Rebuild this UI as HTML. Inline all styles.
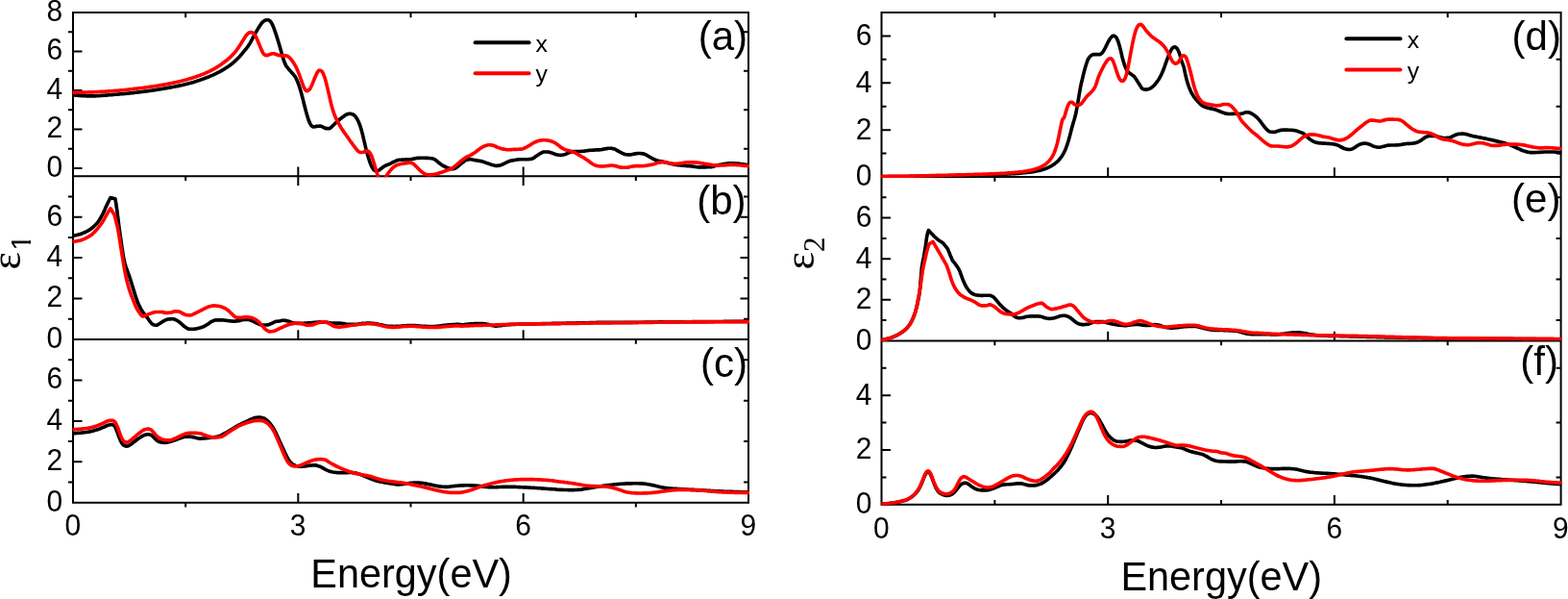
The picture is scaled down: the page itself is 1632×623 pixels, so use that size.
<!DOCTYPE html>
<html lang="en"><head><meta charset="utf-8"><title>Dielectric function</title>
<style>html,body{margin:0;padding:0;background:#fff}svg{display:block}text{font-family:"Liberation Sans",Arial,sans-serif;fill:#000}.t{font-size:31.2px}.T{font-size:42.3px}.l{font-size:24.8px}.c{fill:none;stroke-width:3.65;stroke-linejoin:round;stroke-linecap:butt}.ax{fill:none;stroke:#000;stroke-width:2}.mi{fill:none;stroke:#000;stroke-width:2}</style></head><body>
<svg width="1632" height="623" viewBox="0 0 1632 623">
<rect width="1632" height="623" fill="#fff"/>
<rect class="ax" x="76.0" y="13.0" width="703.0" height="509.8"/>
<path class="ax" d="M76.0,183.2 H779.0"/>
<path class="ax" d="M76.0,353.0 H779.0"/>
<rect class="ax" x="917.5" y="13.0" width="707.1" height="511.8"/>
<path class="ax" d="M917.5,184.0 H1624.6"/>
<path class="ax" d="M917.5,354.4 H1624.6"/>
<path class="ax" d="M76.0,175.00 H85.5 M76.0,134.50 H85.5 M76.0,94.00 H85.5 M76.0,53.50 H85.5 M76.0,310.55 H85.5 M770.5,310.55 H779.0 M76.0,268.10 H85.5 M770.5,268.10 H779.0 M76.0,225.65 H85.5 M770.5,225.65 H779.0 M76.0,480.35 H85.5 M76.0,437.90 H85.5 M76.0,395.45 H85.5 M310.33,173.5 V192.9 M310.33,343.3 V353.0 M310.33,513.1 V522.8 M544.67,173.5 V192.9 M544.67,343.3 V353.0 M544.67,513.1 V522.8 M917.5,135.14 H927.0 M917.5,86.29 H927.0 M917.5,37.43 H927.0 M917.5,311.80 H927.0 M917.5,269.20 H927.0 M917.5,226.60 H927.0 M917.5,468.00 H927.0 M917.5,411.20 H927.0 M1153.20,174.3 V184.0 M1153.20,344.7 V354.4 M1153.20,515.1 V524.8 M1388.90,174.3 V184.0 M1388.90,344.7 V354.4 M1388.90,515.1 V524.8"/>
<path class="mi" d="M71.0,154.75 H76.0 M774.0,154.75 H779.0 M71.0,114.25 H76.0 M774.0,114.25 H779.0 M71.0,73.75 H76.0 M774.0,73.75 H779.0 M71.0,33.25 H76.0 M774.0,33.25 H779.0 M71.0,331.77 H76.0 M774.0,331.77 H779.0 M71.0,289.32 H76.0 M774.0,289.32 H779.0 M71.0,246.88 H76.0 M774.0,246.88 H779.0 M71.0,204.42 H76.0 M774.0,204.42 H779.0 M71.0,501.57 H76.0 M774.0,501.57 H779.0 M71.0,459.12 H76.0 M774.0,459.12 H779.0 M71.0,416.67 H76.0 M774.0,416.67 H779.0 M71.0,374.23 H76.0 M774.0,374.23 H779.0 M193.17,13.0 V18.3 M193.17,183.2 V188.0 M193.17,353.0 V357.8 M193.17,522.8 V527.6 M427.50,13.0 V18.3 M427.50,183.2 V188.0 M427.50,353.0 V357.8 M427.50,522.8 V527.6 M661.83,13.0 V18.3 M661.83,183.2 V188.0 M661.83,353.0 V357.8 M661.83,522.8 V527.6 M917.5,159.57 H922.5 M1619.6,159.57 H1624.6 M917.5,110.71 H922.5 M1619.6,110.71 H1624.6 M917.5,61.86 H922.5 M1619.6,61.86 H1624.6 M917.5,333.10 H922.5 M1619.6,333.10 H1624.6 M917.5,290.50 H922.5 M1619.6,290.50 H1624.6 M917.5,247.90 H922.5 M1619.6,247.90 H1624.6 M917.5,205.30 H922.5 M1619.6,205.30 H1624.6 M917.5,496.40 H922.5 M1619.6,496.40 H1624.6 M917.5,439.60 H922.5 M1619.6,439.60 H1624.6 M917.5,382.80 H922.5 M1619.6,382.80 H1624.6 M1035.35,13.0 V18.3 M1035.35,184.0 V188.8 M1035.35,354.4 V359.2 M1035.35,520.0 V524.8 M1271.05,13.0 V18.3 M1271.05,184.0 V188.8 M1271.05,354.4 V359.2 M1271.05,520.0 V524.8 M1506.75,13.0 V18.3 M1506.75,184.0 V188.8 M1506.75,354.4 V359.2 M1506.75,520.0 V524.8"/>
<defs>
<clipPath id="cpa"><rect x="75.0" y="12.0" width="705.0" height="172.2"/></clipPath>
<clipPath id="cpb"><rect x="75.0" y="182.2" width="705.0" height="171.8"/></clipPath>
<clipPath id="cpc"><rect x="75.0" y="352.0" width="705.0" height="171.8"/></clipPath>
<clipPath id="cpd"><rect x="916.5" y="12.0" width="709.1" height="173.0"/></clipPath>
<clipPath id="cpe"><rect x="916.5" y="183.0" width="709.1" height="172.4"/></clipPath>
<clipPath id="cpf"><rect x="916.5" y="353.4" width="709.1" height="172.4"/></clipPath>
</defs>
<g clip-path="url(#cpa)">
<path class="c" stroke="#000" d="M75.6,98.8 76.6,98.9 77.6,99.0 78.6,99.1 79.6,99.2 80.6,99.3 81.6,99.4 82.6,99.4 83.6,99.5 84.6,99.6 85.6,99.6 86.6,99.7 87.6,99.7 88.6,99.7 89.6,99.8 90.6,99.8 91.6,99.8 92.6,99.8 93.6,99.8 94.6,99.8 95.6,99.8 96.6,99.8 97.6,99.8 98.6,99.8 99.6,99.8 100.6,99.7 101.6,99.7 102.6,99.6 103.6,99.6 104.6,99.5 105.6,99.4 106.6,99.4 107.6,99.3 108.6,99.2 109.6,99.1 110.6,99.1 111.6,99.0 112.6,98.9 113.6,98.8 114.6,98.7 115.6,98.7 116.6,98.6 117.6,98.5 118.6,98.4 119.6,98.3 120.6,98.2 121.6,98.2 122.6,98.1 123.6,98.0 124.6,97.9 125.6,97.8 126.6,97.7 127.6,97.7 128.6,97.6 129.6,97.5 130.6,97.4 131.6,97.3 132.6,97.2 133.6,97.1 134.6,97.0 135.6,96.9 136.6,96.8 137.6,96.7 138.6,96.6 139.6,96.4 140.6,96.3 141.6,96.2 142.6,96.1 143.6,96.0 144.6,95.9 145.6,95.8 146.6,95.6 147.6,95.5 148.6,95.4 149.6,95.3 150.6,95.1 151.6,95.0 152.6,94.9 153.6,94.7 154.6,94.6 155.6,94.5 156.6,94.3 157.6,94.2 158.6,94.0 159.6,93.9 160.6,93.7 161.6,93.6 162.6,93.4 163.6,93.3 164.6,93.1 165.6,93.0 166.6,92.8 167.6,92.6 168.6,92.5 169.6,92.3 170.6,92.1 171.6,92.0 172.6,91.8 173.6,91.6 174.6,91.4 175.6,91.3 176.6,91.1 177.6,90.9 178.6,90.7 179.6,90.5 180.6,90.3 181.6,90.2 182.6,90.0 183.6,89.8 184.6,89.6 185.6,89.4 186.6,89.1 187.6,88.9 188.6,88.7 189.6,88.5 190.6,88.3 191.6,88.0 192.6,87.8 193.6,87.6 194.6,87.3 195.6,87.1 196.6,86.8 197.6,86.5 198.6,86.3 199.6,86.0 200.6,85.7 201.6,85.4 202.6,85.1 203.6,84.8 204.5,84.5 205.5,84.1 206.5,83.8 207.5,83.5 208.5,83.1 209.5,82.8 210.5,82.4 211.5,82.1 212.5,81.7 213.5,81.3 214.5,80.9 215.5,80.6 216.5,80.2 217.5,79.8 218.5,79.4 219.5,78.9 220.5,78.5 221.5,78.1 222.5,77.6 223.5,77.1 224.5,76.7 225.5,76.2 226.5,75.7 227.5,75.2 228.5,74.6 229.5,74.1 230.5,73.5 231.5,73.0 232.5,72.4 233.5,71.8 234.5,71.1 235.5,70.5 236.5,69.8 237.5,69.2 238.5,68.5 239.5,67.7 240.5,67.0 241.5,66.2 242.5,65.4 243.5,64.5 244.5,63.7 245.5,62.7 246.5,61.8 247.5,60.8 248.5,59.8 249.5,58.7 250.5,57.5 251.5,56.3 252.5,55.1 253.5,53.9 254.5,52.7 255.5,51.5 256.5,50.3 257.5,49.0 258.5,47.6 259.5,46.1 260.5,44.4 261.5,42.5 262.5,40.6 263.5,38.7 264.5,36.9 265.5,35.1 266.5,33.3 267.5,31.6 268.5,29.9 269.5,28.3 270.5,26.7 271.5,25.2 272.5,23.9 273.5,22.9 274.5,22.0 275.5,21.4 276.5,21.0 277.5,20.7 278.5,20.7 279.5,20.9 280.5,21.4 281.5,22.2 282.5,23.7 283.5,25.6 284.5,27.9 285.5,30.6 286.5,33.4 287.5,36.4 288.5,39.5 289.5,42.7 290.5,46.1 291.5,49.6 292.5,53.1 293.5,56.7 294.5,60.1 295.5,63.1 296.5,65.9 297.5,67.9 298.5,69.4 299.5,70.7 300.5,72.0 301.5,73.1 302.5,74.2 303.5,75.4 304.5,76.4 305.5,77.5 306.5,78.8 307.5,80.3 308.5,82.3 309.5,84.5 310.5,87.0 311.5,89.9 312.5,93.0 313.5,96.5 314.5,100.2 315.5,104.1 316.5,108.2 317.5,112.1 318.5,116.0 319.5,119.5 320.5,122.8 321.5,125.8 322.5,128.1 323.5,129.9 324.5,131.0 325.5,131.7 326.5,132.0 327.5,131.8 328.5,131.6 329.5,131.4 330.5,131.3 331.5,131.2 332.5,131.1 333.5,131.1 334.5,131.4 335.5,131.9 336.5,132.4 337.5,132.9 338.5,133.4 339.5,133.6 340.5,133.6 341.5,133.6 342.5,133.6 343.5,133.4 344.5,132.6 345.5,131.6 346.5,130.7 347.5,129.7 348.5,128.7 349.5,127.7 350.5,126.8 351.5,125.9 352.5,125.0 353.5,124.2 354.4,123.4 355.4,122.7 356.4,122.0 357.4,121.3 358.4,120.5 359.4,119.8 360.4,119.2 361.4,118.8 362.4,118.5 363.4,118.2 364.4,118.2 365.4,118.4 366.4,118.7 367.4,119.0 368.4,119.7 369.4,120.6 370.4,121.7 371.4,123.2 372.4,125.1 373.4,127.3 374.4,129.7 375.4,132.7 376.4,136.1 377.4,139.9 378.4,144.1 379.4,148.3 380.4,152.6 381.4,156.7 382.4,160.4 383.4,163.8 384.4,166.9 385.4,169.8 386.4,172.2 387.4,174.3 388.4,175.9 389.4,176.9 390.4,177.6 391.4,177.9 392.4,177.8 393.4,177.5 394.4,177.1 395.4,176.4 396.4,175.5 397.4,174.8 398.4,174.0 399.4,173.3 400.4,172.7 401.4,172.2 402.4,171.8 403.4,171.4 404.4,171.0 405.4,170.6 406.4,170.1 407.4,169.6 408.4,169.0 409.4,168.5 410.4,168.1 411.4,167.6 412.4,167.2 413.4,166.8 414.4,166.5 415.4,166.3 416.4,166.2 417.4,166.2 418.4,166.1 419.4,166.1 420.4,166.0 421.4,166.0 422.4,165.9 423.4,165.9 424.4,165.9 425.4,165.8 426.4,165.8 427.4,165.7 428.4,165.6 429.4,165.4 430.4,165.2 431.4,164.9 432.4,164.7 433.4,164.5 434.4,164.4 435.4,164.4 436.4,164.3 437.4,164.3 438.4,164.2 439.4,164.2 440.4,164.2 441.4,164.2 442.4,164.3 443.4,164.3 444.4,164.3 445.4,164.4 446.4,164.5 447.4,164.5 448.4,164.7 449.4,164.8 450.4,165.0 451.4,165.3 452.4,165.8 453.4,166.6 454.4,167.3 455.4,168.1 456.4,169.0 457.4,169.8 458.4,170.6 459.4,171.2 460.4,171.9 461.4,172.5 462.4,173.0 463.4,173.5 464.4,174.0 465.4,174.5 466.4,174.8 467.4,175.1 468.4,175.4 469.4,175.7 470.4,175.7 471.4,175.6 472.4,175.4 473.4,175.1 474.4,174.7 475.4,174.0 476.4,173.2 477.4,172.3 478.4,171.5 479.4,170.6 480.4,169.8 481.4,169.0 482.4,168.2 483.4,167.4 484.4,166.7 485.4,166.3 486.4,166.1 487.4,165.9 488.4,165.7 489.4,165.7 490.4,165.8 491.4,166.0 492.4,166.2 493.4,166.5 494.4,166.6 495.4,166.8 496.4,166.9 497.4,167.1 498.4,167.2 499.4,167.4 500.4,167.6 501.4,167.8 502.4,168.1 503.4,168.4 504.4,168.8 505.3,169.1 506.3,169.4 507.3,169.7 508.3,170.1 509.3,170.5 510.3,170.8 511.3,171.2 512.3,171.5 513.3,171.7 514.3,172.0 515.3,172.2 516.3,172.4 517.3,172.3 518.3,172.3 519.3,172.1 520.3,172.0 521.3,171.7 522.3,171.3 523.3,170.8 524.3,170.3 525.3,169.9 526.3,169.4 527.3,168.9 528.3,168.4 529.3,168.0 530.3,167.6 531.3,167.3 532.3,167.1 533.3,166.9 534.3,166.7 535.3,166.5 536.3,166.4 537.3,166.2 538.3,166.0 539.3,165.8 540.3,165.8 541.3,165.7 542.3,165.7 543.3,165.7 544.3,165.7 545.3,165.7 546.3,165.7 547.3,165.7 548.3,165.7 549.3,165.7 550.3,165.6 551.3,165.5 552.3,165.4 553.3,165.2 554.3,164.9 555.3,164.4 556.3,163.7 557.3,162.9 558.3,162.3 559.3,161.6 560.3,160.9 561.3,160.2 562.3,159.6 563.3,159.1 564.3,158.5 565.3,158.1 566.3,158.0 567.3,158.0 568.3,158.0 569.3,158.0 570.3,158.0 571.3,158.1 572.3,158.4 573.3,158.7 574.3,159.0 575.3,159.4 576.3,159.8 577.3,160.2 578.3,160.6 579.3,160.8 580.3,161.0 581.3,161.2 582.3,161.3 583.3,161.3 584.3,161.3 585.3,161.2 586.3,161.0 587.3,160.8 588.3,160.5 589.3,160.1 590.3,159.6 591.3,159.1 592.3,158.7 593.3,158.3 594.3,158.0 595.3,157.7 596.3,157.6 597.3,157.6 598.3,157.6 599.3,157.6 600.3,157.6 601.3,157.6 602.3,157.6 603.3,157.5 604.3,157.5 605.3,157.4 606.3,157.3 607.3,157.2 608.3,157.1 609.3,157.0 610.3,156.8 611.3,156.7 612.3,156.5 613.3,156.4 614.3,156.3 615.3,156.2 616.3,156.2 617.3,156.1 618.3,156.1 619.3,156.0 620.3,155.9 621.3,155.9 622.3,155.9 623.3,155.8 624.3,155.8 625.3,155.7 626.3,155.6 627.3,155.3 628.3,155.1 629.3,154.9 630.3,154.7 631.3,154.6 632.3,154.4 633.3,154.3 634.3,154.2 635.3,154.2 636.3,154.3 637.3,154.4 638.3,154.7 639.3,154.9 640.3,155.3 641.3,155.9 642.3,156.5 643.3,157.0 644.3,157.6 645.3,158.1 646.3,158.7 647.3,159.2 648.3,159.6 649.3,160.1 650.3,160.4 651.3,160.7 652.3,160.8 653.3,160.9 654.3,160.9 655.2,161.0 656.2,160.9 657.2,160.7 658.2,160.5 659.2,160.3 660.2,160.1 661.2,159.9 662.2,159.8 663.2,159.6 664.2,159.5 665.2,159.5 666.2,159.5 667.2,159.6 668.2,159.7 669.2,159.9 670.2,160.1 671.2,160.4 672.2,160.9 673.2,161.5 674.2,162.1 675.2,162.6 676.2,163.2 677.2,163.8 678.2,164.3 679.2,164.8 680.2,165.3 681.2,165.8 682.2,166.3 683.2,166.7 684.2,167.0 685.2,167.3 686.2,167.5 687.2,167.7 688.2,167.8 689.2,168.0 690.2,168.2 691.2,168.4 692.2,168.7 693.2,168.9 694.2,169.2 695.2,169.5 696.2,169.7 697.2,170.0 698.2,170.2 699.2,170.4 700.2,170.6 701.2,170.9 702.2,171.1 703.2,171.3 704.2,171.4 705.2,171.6 706.2,171.7 707.2,171.8 708.2,171.9 709.2,172.0 710.2,172.1 711.2,172.2 712.2,172.3 713.2,172.4 714.2,172.5 715.2,172.6 716.2,172.6 717.2,172.7 718.2,172.8 719.2,172.9 720.2,173.0 721.2,173.1 722.2,173.2 723.2,173.4 724.2,173.5 725.2,173.7 726.2,173.8 727.2,173.8 728.2,173.9 729.2,173.9 730.2,173.9 731.2,173.8 732.2,173.8 733.2,173.8 734.2,173.8 735.2,173.8 736.2,173.7 737.2,173.7 738.2,173.7 739.2,173.6 740.2,173.6 741.2,173.5 742.2,173.3 743.2,173.0 744.2,172.6 745.2,172.3 746.2,172.0 747.2,171.8 748.2,171.6 749.2,171.4 750.2,171.2 751.2,171.0 752.2,170.8 753.2,170.6 754.2,170.5 755.2,170.3 756.2,170.2 757.2,170.0 758.2,169.9 759.2,169.9 760.2,169.9 761.2,169.9 762.2,169.9 763.2,169.9 764.2,169.9 765.2,170.0 766.2,170.0 767.2,170.1 768.2,170.1 769.2,170.2 770.2,170.4 771.2,170.5 772.2,170.7 773.2,170.8 774.2,171.0 775.2,171.1 776.2,171.2 777.2,171.4 778.2,171.5 779.2,171.6 779.8,171.6"/>
<path class="c" stroke="#ff0000" d="M75.6,96.3 76.6,96.3 77.6,96.3 78.6,96.3 79.6,96.3 80.6,96.3 81.6,96.2 82.6,96.2 83.6,96.2 84.6,96.2 85.6,96.1 86.6,96.1 87.6,96.1 88.6,96.1 89.6,96.0 90.6,96.0 91.6,96.0 92.6,95.9 93.6,95.9 94.6,95.9 95.6,95.8 96.6,95.8 97.6,95.8 98.6,95.7 99.6,95.7 100.6,95.6 101.6,95.6 102.6,95.5 103.6,95.5 104.6,95.4 105.6,95.4 106.6,95.3 107.6,95.3 108.6,95.2 109.6,95.1 110.6,95.1 111.6,95.0 112.6,94.9 113.6,94.9 114.6,94.8 115.6,94.7 116.6,94.7 117.6,94.6 118.6,94.5 119.6,94.4 120.6,94.4 121.6,94.3 122.6,94.2 123.6,94.1 124.6,94.0 125.6,93.9 126.6,93.9 127.6,93.8 128.6,93.7 129.6,93.6 130.6,93.5 131.6,93.4 132.6,93.2 133.6,93.1 134.6,93.0 135.6,92.9 136.6,92.8 137.6,92.7 138.6,92.6 139.6,92.4 140.6,92.3 141.6,92.2 142.6,92.1 143.6,92.0 144.6,91.8 145.6,91.7 146.6,91.6 147.6,91.5 148.6,91.4 149.6,91.2 150.6,91.1 151.6,91.0 152.6,90.8 153.6,90.7 154.6,90.6 155.6,90.4 156.6,90.3 157.6,90.1 158.6,90.0 159.6,89.9 160.6,89.7 161.6,89.6 162.6,89.4 163.6,89.2 164.6,89.1 165.6,88.9 166.6,88.8 167.6,88.6 168.6,88.4 169.6,88.3 170.6,88.1 171.6,87.9 172.6,87.7 173.6,87.5 174.6,87.3 175.6,87.1 176.6,86.9 177.6,86.7 178.6,86.5 179.6,86.3 180.6,86.1 181.6,85.9 182.6,85.7 183.6,85.4 184.6,85.2 185.6,85.0 186.6,84.7 187.6,84.5 188.6,84.3 189.6,84.0 190.6,83.8 191.6,83.5 192.6,83.2 193.6,83.0 194.6,82.7 195.6,82.4 196.6,82.1 197.6,81.8 198.6,81.6 199.6,81.2 200.6,80.9 201.6,80.6 202.6,80.3 203.6,80.0 204.5,79.6 205.5,79.3 206.5,78.9 207.5,78.5 208.5,78.2 209.5,77.8 210.5,77.4 211.5,77.0 212.5,76.6 213.5,76.2 214.5,75.7 215.5,75.3 216.5,74.8 217.5,74.4 218.5,73.9 219.5,73.4 220.5,72.8 221.5,72.3 222.5,71.8 223.5,71.2 224.5,70.6 225.5,70.0 226.5,69.4 227.5,68.8 228.5,68.1 229.5,67.5 230.5,66.8 231.5,66.1 232.5,65.3 233.5,64.6 234.5,63.8 235.5,63.0 236.5,62.2 237.5,61.3 238.5,60.5 239.5,59.6 240.5,58.6 241.5,57.7 242.5,56.6 243.5,55.5 244.5,54.4 245.5,53.1 246.5,51.8 247.5,50.4 248.5,48.9 249.5,47.4 250.5,45.9 251.5,44.3 252.5,42.7 253.5,41.1 254.5,39.5 255.5,37.9 256.5,36.5 257.5,35.4 258.5,34.5 259.5,34.0 260.5,33.6 261.5,33.5 262.5,33.8 263.5,34.5 264.5,35.4 265.5,36.8 266.5,38.5 267.5,40.7 268.5,43.1 269.5,45.5 270.5,47.9 271.5,50.3 272.5,52.5 273.5,54.7 274.5,56.1 275.5,57.0 276.5,57.5 277.5,57.6 278.5,57.4 279.5,57.1 280.5,56.8 281.5,56.4 282.5,56.0 283.5,55.7 284.5,55.7 285.5,55.9 286.5,56.1 287.5,56.5 288.5,57.0 289.5,57.4 290.5,57.6 291.5,57.8 292.5,57.9 293.5,58.0 294.5,58.0 295.5,57.9 296.5,57.9 297.5,57.8 298.5,58.0 299.5,58.6 300.5,59.3 301.5,60.1 302.5,61.2 303.5,62.4 304.5,63.8 305.5,65.3 306.5,66.9 307.5,68.6 308.5,70.5 309.5,72.7 310.5,75.1 311.5,77.7 312.5,80.5 313.5,83.3 314.5,86.2 315.5,88.9 316.5,91.2 317.5,93.1 318.5,94.2 319.5,94.7 320.5,94.3 321.5,93.6 322.5,92.6 323.5,90.8 324.5,88.8 325.5,86.4 326.5,83.8 327.5,81.3 328.5,79.0 329.5,76.9 330.5,74.9 331.5,73.7 332.5,73.2 333.5,73.3 334.5,73.8 335.5,74.8 336.5,76.9 337.5,79.4 338.5,82.4 339.5,86.0 340.5,90.1 341.5,94.4 342.5,98.7 343.5,103.1 344.5,107.4 345.5,111.3 346.5,114.7 347.5,117.7 348.5,120.3 349.5,122.6 350.5,124.7 351.5,126.6 352.5,128.4 353.5,130.1 354.4,131.8 355.4,133.4 356.4,134.9 357.4,136.4 358.4,137.9 359.4,139.3 360.4,140.7 361.4,142.1 362.4,143.6 363.4,145.0 364.4,146.5 365.4,147.9 366.4,149.2 367.4,150.6 368.4,151.9 369.4,153.2 370.4,154.5 371.4,155.8 372.4,156.9 373.4,157.7 374.4,158.3 375.4,158.5 376.4,158.5 377.4,158.5 378.4,158.2 379.4,157.6 380.4,157.2 381.4,157.1 382.4,157.0 383.4,157.3 384.4,158.2 385.4,159.6 386.4,161.5 387.4,164.0 388.4,167.0 389.4,170.3 390.4,173.7 391.4,177.1 392.4,180.1 393.4,182.7 394.4,186.1 395.4,189.5 396.4,191.3 397.4,192.5 398.4,192.4 399.4,191.3 400.4,189.4 401.4,185.2 402.4,182.4 403.4,180.9 404.4,179.7 405.4,178.5 406.4,177.2 407.4,176.0 408.4,174.9 409.4,174.0 410.4,173.3 411.4,172.6 412.4,172.0 413.4,171.6 414.4,171.2 415.4,171.0 416.4,170.7 417.4,170.5 418.4,170.3 419.4,170.2 420.4,170.0 421.4,169.9 422.4,169.8 423.4,169.6 424.4,169.4 425.4,169.3 426.4,169.2 427.4,169.3 428.4,169.6 429.4,170.0 430.4,170.6 431.4,171.4 432.4,172.4 433.4,173.3 434.4,174.3 435.4,175.4 436.4,176.4 437.4,177.4 438.4,178.2 439.4,179.1 440.4,179.8 441.4,180.5 442.4,180.9 443.4,181.2 444.4,181.5 445.4,181.7 446.4,181.7 447.4,181.7 448.4,181.7 449.4,181.6 450.4,181.5 451.4,181.4 452.4,181.2 453.4,181.0 454.4,180.8 455.4,180.5 456.4,180.2 457.4,179.8 458.4,179.5 459.4,179.2 460.4,178.9 461.4,178.6 462.4,178.2 463.4,177.8 464.4,177.5 465.4,177.1 466.4,176.8 467.4,176.4 468.4,176.0 469.4,175.5 470.4,175.0 471.4,174.4 472.4,173.7 473.4,172.9 474.4,172.1 475.4,171.3 476.4,170.4 477.4,169.5 478.4,168.6 479.4,167.7 480.4,166.9 481.4,166.2 482.4,165.4 483.4,164.8 484.4,164.1 485.4,163.5 486.4,163.0 487.4,162.5 488.4,162.1 489.4,161.6 490.4,161.0 491.4,160.5 492.4,159.8 493.4,159.2 494.4,158.5 495.4,157.8 496.4,157.0 497.4,156.2 498.4,155.4 499.4,154.7 500.4,154.0 501.4,153.4 502.4,152.9 503.4,152.3 504.4,151.9 505.3,151.6 506.3,151.3 507.3,151.0 508.3,150.8 509.3,150.7 510.3,150.7 511.3,150.9 512.3,151.1 513.3,151.3 514.3,151.6 515.3,152.0 516.3,152.5 517.3,153.0 518.3,153.4 519.3,153.8 520.3,154.1 521.3,154.4 522.3,154.7 523.3,154.9 524.3,155.1 525.3,155.3 526.3,155.5 527.3,155.6 528.3,155.7 529.3,155.7 530.3,155.7 531.3,155.6 532.3,155.6 533.3,155.5 534.3,155.4 535.3,155.4 536.3,155.3 537.3,155.3 538.3,155.3 539.3,155.2 540.3,155.2 541.3,155.1 542.3,155.1 543.3,155.0 544.3,154.7 545.3,154.3 546.3,153.8 547.3,153.4 548.3,152.9 549.3,152.3 550.3,151.6 551.3,151.1 552.3,150.5 553.3,149.8 554.3,149.2 555.3,148.7 556.3,148.2 557.3,147.7 558.3,147.3 559.3,146.9 560.3,146.5 561.3,146.3 562.3,146.1 563.3,146.0 564.3,145.8 565.3,145.7 566.3,145.7 567.3,145.7 568.3,145.8 569.3,146.0 570.3,146.1 571.3,146.3 572.3,146.5 573.3,146.8 574.3,147.1 575.3,147.5 576.3,147.9 577.3,148.4 578.3,149.0 579.3,149.7 580.3,150.4 581.3,151.1 582.3,151.9 583.3,152.8 584.3,153.5 585.3,154.2 586.3,154.7 587.3,155.2 588.3,155.6 589.3,156.0 590.3,156.3 591.3,156.6 592.3,156.8 593.3,157.0 594.3,157.3 595.3,157.7 596.3,158.0 597.3,158.4 598.3,158.8 599.3,159.4 600.3,159.9 601.3,160.5 602.3,161.1 603.3,161.7 604.3,162.2 605.3,162.8 606.3,163.3 607.3,163.9 608.3,164.5 609.3,165.2 610.3,165.9 611.3,166.6 612.3,167.3 613.3,168.1 614.3,168.8 615.3,169.6 616.3,170.3 617.3,170.9 618.3,171.4 619.3,171.8 620.3,172.2 621.3,172.5 622.3,172.6 623.3,172.8 624.3,172.9 625.3,172.9 626.3,173.0 627.3,173.0 628.3,172.9 629.3,172.8 630.3,172.7 631.3,172.6 632.3,172.5 633.3,172.4 634.3,172.2 635.3,172.1 636.3,172.0 637.3,172.0 638.3,172.2 639.3,172.4 640.3,172.6 641.3,172.8 642.3,173.1 643.3,173.4 644.3,173.7 645.3,173.9 646.3,174.1 647.3,174.1 648.3,174.2 649.3,174.2 650.3,174.2 651.3,174.2 652.3,174.2 653.3,174.1 654.3,173.9 655.2,173.7 656.2,173.5 657.2,173.3 658.2,173.1 659.2,172.9 660.2,172.7 661.2,172.6 662.2,172.6 663.2,172.6 664.2,172.6 665.2,172.6 666.2,172.6 667.2,172.6 668.2,172.6 669.2,172.6 670.2,172.5 671.2,172.4 672.2,172.2 673.2,172.1 674.2,172.0 675.2,171.8 676.2,171.6 677.2,171.4 678.2,171.2 679.2,171.0 680.2,170.7 681.2,170.5 682.2,170.1 683.2,169.8 684.2,169.5 685.2,169.2 686.2,169.0 687.2,168.9 688.2,168.7 689.2,168.6 690.2,168.6 691.2,168.7 692.2,168.9 693.2,169.1 694.2,169.2 695.2,169.4 696.2,169.5 697.2,169.6 698.2,169.8 699.2,170.0 700.2,170.2 701.2,170.3 702.2,170.3 703.2,170.3 704.2,170.3 705.2,170.2 706.2,170.1 707.2,170.0 708.2,169.9 709.2,169.8 710.2,169.6 711.2,169.4 712.2,169.2 713.2,169.0 714.2,168.9 715.2,168.9 716.2,168.9 717.2,168.9 718.2,168.9 719.2,168.9 720.2,168.9 721.2,168.9 722.2,168.9 723.2,168.9 724.2,168.9 725.2,169.0 726.2,169.1 727.2,169.3 728.2,169.4 729.2,169.6 730.2,169.7 731.2,169.9 732.2,170.1 733.2,170.2 734.2,170.4 735.2,170.6 736.2,170.8 737.2,170.9 738.2,171.1 739.2,171.2 740.2,171.4 741.2,171.6 742.2,171.7 743.2,171.9 744.2,172.0 745.2,172.0 746.2,172.0 747.2,172.0 748.2,172.0 749.2,172.0 750.2,172.0 751.2,172.0 752.2,172.0 753.2,172.0 754.2,171.9 755.2,171.8 756.2,171.7 757.2,171.6 758.2,171.5 759.2,171.4 760.2,171.4 761.2,171.4 762.2,171.4 763.2,171.4 764.2,171.4 765.2,171.5 766.2,171.5 767.2,171.6 768.2,171.6 769.2,171.7 770.2,171.8 771.2,171.9 772.2,172.0 773.2,172.2 774.2,172.3 775.2,172.4 776.2,172.4 777.2,172.5 778.2,172.6 779.2,172.6 779.8,172.6"/>
</g>
<g clip-path="url(#cpb)">
<path class="c" stroke="#000" d="M75.6,245.1 76.6,245.0 77.6,244.9 78.6,244.7 79.6,244.5 80.6,244.3 81.5,244.1 82.5,243.8 83.5,243.6 84.5,243.2 85.5,242.8 86.4,242.4 87.4,242.0 88.4,241.5 89.4,241.1 90.4,240.6 91.4,240.1 92.3,239.5 93.3,238.9 94.3,238.2 95.3,237.5 96.3,236.7 97.3,235.9 98.2,235.0 99.2,234.0 100.2,233.0 101.2,231.8 102.2,230.6 103.2,229.2 104.1,227.7 105.1,226.0 106.1,224.2 107.1,222.2 108.1,220.1 109.1,217.9 110.0,215.7 111.0,213.6 112.0,211.5 113.0,209.5 114.0,207.5 115.0,205.6 119.9,206.8 120.9,212.5 121.9,219.5 122.9,227.8 123.9,235.7 124.9,243.0 125.9,250.1 126.9,256.9 127.9,263.5 128.9,269.5 129.9,273.7 130.9,277.1 131.9,280.0 132.9,282.7 133.9,285.4 134.9,288.2 135.9,291.4 136.9,294.6 137.9,297.8 138.9,301.1 139.9,304.4 140.9,307.5 141.9,310.4 142.9,313.2 143.9,315.7 144.9,317.9 145.9,319.9 146.9,321.7 147.9,323.3 148.9,324.8 149.9,326.1 150.9,327.3 151.9,328.5 152.9,329.9 153.9,331.3 154.9,332.7 155.9,334.1 156.9,335.4 157.9,336.6 158.9,337.4 159.9,337.7 160.9,338.0 161.9,338.2 162.9,338.2 163.9,337.9 164.9,337.3 165.9,336.7 166.9,336.1 167.9,335.4 168.9,334.7 169.9,334.1 170.9,333.5 171.9,333.1 172.9,332.6 173.9,332.2 174.9,332.0 175.9,331.9 176.9,331.8 177.9,331.8 178.9,331.7 179.9,331.7 180.9,331.9 181.9,332.3 182.9,332.7 183.9,333.2 184.9,333.8 185.9,334.4 186.9,335.2 187.9,336.0 188.9,336.8 189.9,337.7 190.9,338.7 191.9,339.5 192.9,340.2 193.9,340.9 194.9,341.5 195.9,342.0 196.9,342.2 197.9,342.2 198.9,342.2 199.9,342.2 200.9,342.2 201.9,342.2 202.9,342.1 203.9,342.0 204.9,341.7 205.9,341.5 206.9,341.3 207.9,341.0 208.9,340.8 209.9,340.4 210.9,340.1 211.9,339.7 212.9,339.2 213.9,338.6 214.9,338.0 215.9,337.4 216.9,336.7 217.9,336.0 218.9,335.3 219.9,334.6 220.9,334.1 221.9,333.7 222.9,333.3 223.9,333.0 224.9,332.9 225.9,332.8 226.9,332.8 227.8,332.8 228.8,332.8 229.8,332.8 230.8,332.9 231.8,332.9 232.8,333.0 233.8,333.1 234.8,333.3 235.8,333.4 236.8,333.5 237.8,333.6 238.8,333.8 239.8,333.9 240.8,334.0 241.8,334.1 242.8,334.1 243.8,334.1 244.8,334.1 245.8,334.0 246.8,333.9 247.8,333.8 248.8,333.7 249.8,333.4 250.8,333.0 251.8,332.8 252.8,332.6 253.8,332.5 254.8,332.4 255.8,332.4 256.8,332.4 257.8,332.3 258.8,332.5 259.8,332.7 260.8,333.1 261.8,333.5 262.8,333.9 263.8,334.3 264.8,334.8 265.8,335.4 266.8,335.9 267.8,336.4 268.8,336.8 269.8,337.2 270.8,337.6 271.8,337.9 272.8,338.0 273.8,338.0 274.8,338.0 275.8,338.0 276.8,338.0 277.8,338.0 278.8,337.9 279.8,337.6 280.8,337.2 281.8,336.8 282.8,336.4 283.8,335.9 284.8,335.4 285.8,334.9 286.8,334.5 287.8,334.2 288.8,334.2 289.8,334.1 290.8,334.0 291.8,333.8 292.8,333.5 293.8,333.3 294.8,333.2 295.8,333.2 296.8,333.4 297.8,333.6 298.8,333.8 299.8,334.0 300.8,334.3 301.8,334.7 302.8,335.0 303.8,335.4 304.8,335.7 305.8,335.9 306.8,336.0 307.8,336.2 308.8,336.3 309.8,336.3 310.8,336.3 311.8,336.3 312.8,336.3 313.8,336.3 314.8,336.2 315.8,336.2 316.8,336.1 317.8,336.1 318.8,336.0 319.8,336.0 320.8,335.9 321.8,335.9 322.8,335.8 323.8,335.7 324.8,335.6 325.8,335.5 326.8,335.4 327.8,335.3 328.8,335.2 329.8,335.1 330.8,335.0 331.8,335.0 332.8,334.9 333.8,334.9 334.8,334.8 335.8,334.9 336.8,334.9 337.8,335.0 338.8,335.2 339.8,335.3 340.8,335.4 341.8,335.6 342.8,335.7 343.8,335.9 344.8,336.0 345.8,336.1 346.8,336.1 347.8,336.1 348.8,336.1 349.8,336.1 350.8,336.1 351.8,336.1 352.8,336.1 353.8,336.1 354.8,336.2 355.8,336.3 356.8,336.5 357.8,336.6 358.8,336.8 359.8,337.0 360.8,337.2 361.8,337.3 362.8,337.3 363.8,337.3 364.8,337.3 365.8,337.3 366.8,337.3 367.8,337.3 368.8,337.3 369.8,337.3 370.8,337.3 371.8,337.2 372.8,337.1 373.8,336.9 374.8,336.7 375.8,336.6 376.8,336.4 377.8,336.3 378.8,336.3 379.8,336.2 380.8,336.2 381.8,336.1 382.8,336.1 383.8,336.1 384.8,336.1 385.8,336.1 386.8,336.2 387.8,336.3 388.8,336.4 389.8,336.5 390.8,336.7 391.8,336.8 392.8,337.0 393.8,337.2 394.8,337.5 395.8,337.7 396.8,337.9 397.8,338.1 398.8,338.4 399.8,338.6 400.8,338.8 401.8,339.0 402.8,339.1 403.8,339.2 404.8,339.2 405.8,339.3 406.8,339.4 407.8,339.4 408.8,339.4 409.8,339.5 410.8,339.5 411.8,339.4 412.8,339.4 413.8,339.3 414.8,339.3 415.8,339.2 416.8,339.2 417.8,339.1 418.8,339.0 419.7,338.9 420.7,338.9 421.7,338.8 422.7,338.7 423.7,338.6 424.7,338.6 425.7,338.6 426.7,338.6 427.7,338.6 428.7,338.6 429.7,338.6 430.7,338.6 431.7,338.6 432.7,338.6 433.7,338.7 434.7,338.8 435.7,338.9 436.7,339.0 437.7,339.1 438.7,339.2 439.7,339.2 440.7,339.3 441.7,339.4 442.7,339.4 443.7,339.4 444.7,339.5 445.7,339.5 446.7,339.5 447.7,339.5 448.7,339.5 449.7,339.5 450.7,339.5 451.7,339.5 452.7,339.5 453.7,339.4 454.7,339.4 455.7,339.2 456.7,339.1 457.7,339.0 458.7,338.8 459.7,338.7 460.7,338.5 461.7,338.4 462.7,338.3 463.7,338.2 464.7,338.1 465.7,338.0 466.7,337.9 467.7,337.8 468.7,337.8 469.7,337.7 470.7,337.6 471.7,337.6 472.7,337.5 473.7,337.5 474.7,337.4 475.7,337.4 476.7,337.3 477.7,337.3 478.7,337.5 479.7,337.8 480.7,337.8 481.7,337.8 482.7,337.7 483.7,337.5 484.7,337.4 485.7,337.3 486.7,337.2 487.7,337.1 488.7,337.0 489.7,336.9 490.7,336.8 491.7,336.7 492.7,336.7 493.7,336.6 494.7,336.6 495.7,336.6 496.7,336.6 497.7,336.6 498.7,336.6 499.7,336.6 500.7,336.6 501.7,336.6 502.7,336.6 503.7,336.7 504.7,336.8 505.7,337.0 506.7,337.2 507.7,337.4 508.7,337.6 509.7,337.9 510.7,338.2 511.7,338.4 512.7,338.6 513.7,338.8 514.7,339.0 515.7,339.1 516.7,339.1 517.7,339.0 518.7,338.9 519.7,338.8 520.7,338.7 521.7,338.6 522.7,338.4 523.7,338.3 524.7,338.2 525.7,338.0 526.7,337.9 527.7,337.8 528.7,337.7 529.7,337.6 530.7,337.6 531.7,337.5 532.7,337.4 533.7,337.4 534.7,337.4 535.7,337.3 536.7,337.3 537.7,337.2 538.7,337.2 539.7,337.2 540.7,337.1 541.7,337.1 542.7,337.1 543.7,337.1 544.7,337.0 545.7,337.0 546.7,337.0 547.7,337.0 548.7,336.9 549.7,336.9 550.7,336.9 551.7,336.9 552.7,336.8 553.7,336.8 554.7,336.8 555.7,336.8 556.7,336.8 557.7,336.7 558.7,336.7 559.7,336.7 560.7,336.7 561.7,336.7 562.7,336.7 563.7,336.6 564.7,336.6 565.7,336.6 566.7,336.6 567.7,336.6 568.7,336.5 569.7,336.5 570.7,336.5 571.7,336.5 572.7,336.5 573.7,336.5 574.7,336.4 575.7,336.4 576.7,336.4 577.7,336.4 578.7,336.4 579.7,336.3 580.7,336.3 581.7,336.3 582.7,336.3 583.7,336.3 584.7,336.2 585.7,336.2 586.7,336.2 587.7,336.2 588.7,336.2 589.7,336.1 590.7,336.1 591.7,336.1 592.7,336.1 593.7,336.1 594.7,336.0 595.7,336.0 596.7,336.0 597.7,336.0 598.7,336.0 599.7,335.9 600.7,335.9 601.7,335.9 602.7,335.9 603.7,335.9 604.7,335.8 605.7,335.8 606.7,335.8 607.7,335.8 608.7,335.8 609.7,335.7 610.6,335.7 611.6,335.7 612.6,335.7 613.6,335.6 614.6,335.6 615.6,335.6 616.6,335.6 617.6,335.5 618.6,335.5 619.6,335.5 620.6,335.5 621.6,335.4 622.6,335.4 623.6,335.4 624.6,335.4 625.6,335.4 626.6,335.4 627.6,335.3 628.6,335.3 629.6,335.3 630.6,335.3 631.6,335.3 632.6,335.3 633.6,335.3 634.6,335.3 635.6,335.3 636.6,335.3 637.6,335.3 638.6,335.3 639.6,335.3 640.6,335.3 641.6,335.3 642.6,335.3 643.6,335.3 644.6,335.3 645.6,335.3 646.6,335.3 647.6,335.3 648.6,335.3 649.6,335.3 650.6,335.3 651.6,335.3 652.6,335.3 653.6,335.3 654.6,335.3 655.6,335.3 656.6,335.3 657.6,335.3 658.6,335.3 659.6,335.3 660.6,335.3 661.6,335.3 662.6,335.3 663.6,335.3 664.6,335.3 665.6,335.2 666.6,335.2 667.6,335.2 668.6,335.2 669.6,335.2 670.6,335.2 671.6,335.1 672.6,335.1 673.6,335.1 674.6,335.1 675.6,335.1 676.6,335.1 677.6,335.0 678.6,335.0 679.6,335.0 680.6,335.0 681.6,335.0 682.6,335.0 683.6,335.0 684.6,335.0 685.6,334.9 686.6,334.9 687.6,334.9 688.6,334.9 689.6,334.9 690.6,334.9 691.6,334.9 692.6,334.9 693.6,334.9 694.6,334.9 695.6,334.8 696.6,334.8 697.6,334.8 698.6,334.8 699.6,334.8 700.6,334.8 701.6,334.8 702.6,334.8 703.6,334.8 704.6,334.8 705.6,334.8 706.6,334.8 707.6,334.7 708.6,334.7 709.6,334.7 710.6,334.7 711.6,334.7 712.6,334.7 713.6,334.7 714.6,334.7 715.6,334.7 716.6,334.7 717.6,334.7 718.6,334.7 719.6,334.7 720.6,334.6 721.6,334.6 722.6,334.6 723.6,334.6 724.6,334.6 725.6,334.6 726.6,334.6 727.6,334.6 728.6,334.6 729.6,334.6 730.6,334.6 731.6,334.6 732.6,334.6 733.6,334.6 734.6,334.6 735.6,334.6 736.6,334.5 737.6,334.5 738.6,334.5 739.6,334.5 740.6,334.5 741.6,334.5 742.6,334.5 743.6,334.5 744.6,334.5 745.6,334.5 746.6,334.5 747.6,334.5 748.6,334.5 749.6,334.5 750.6,334.5 751.6,334.5 752.6,334.5 753.6,334.4 754.6,334.4 755.6,334.4 756.6,334.4 757.6,334.4 758.6,334.4 759.6,334.4 760.6,334.4 761.6,334.4 762.6,334.4 763.6,334.4 764.6,334.4 765.6,334.4 766.6,334.4 767.6,334.4 768.6,334.4 769.6,334.4 770.6,334.4 771.6,334.4 772.6,334.4 773.6,334.4 774.6,334.4 775.6,334.3 776.6,334.3 777.6,334.3 778.6,334.3 779.6,334.3 779.8,334.3"/>
<path class="c" stroke="#ff0000" d="M75.6,251.4 76.6,251.3 77.6,251.2 78.6,251.0 79.6,250.8 80.6,250.7 81.5,250.4 82.5,250.2 83.5,250.0 84.5,249.7 85.5,249.3 86.4,249.0 87.4,248.6 88.4,248.1 89.4,247.7 90.4,247.2 91.4,246.7 92.3,246.1 93.3,245.5 94.3,244.9 95.3,244.2 96.3,243.3 97.3,242.4 98.2,241.4 99.2,240.4 100.2,239.3 101.2,238.2 102.2,237.0 103.2,235.7 104.1,234.4 105.1,233.1 106.1,231.7 107.1,230.2 108.1,228.6 109.1,226.8 110.0,225.0 111.0,223.2 112.0,221.5 113.0,219.9 114.0,218.3 115.0,216.8 119.2,223.7 120.2,227.7 121.2,231.8 122.2,236.0 123.2,241.0 124.2,246.9 125.1,252.8 126.1,258.9 127.1,265.4 128.1,271.5 129.1,277.4 130.1,283.0 131.1,288.0 132.1,292.3 133.1,296.1 134.1,299.6 135.1,302.8 136.1,305.7 137.1,308.3 138.1,310.9 139.1,313.4 140.1,315.9 141.1,318.3 142.1,320.4 143.1,322.2 144.1,323.7 145.1,325.2 146.1,326.6 147.1,328.0 148.1,328.8 149.1,329.1 150.1,328.7 151.1,328.2 152.1,327.8 153.1,327.4 154.1,327.0 155.1,326.6 156.1,326.2 157.1,325.9 158.1,325.6 159.1,325.2 160.1,324.9 161.1,324.6 162.1,324.5 163.1,324.5 164.1,324.5 165.1,324.5 166.1,324.5 167.1,324.5 168.1,324.5 169.1,324.6 170.1,324.9 171.1,325.1 172.1,325.3 173.1,325.3 174.1,325.3 175.1,325.3 176.1,325.2 177.1,325.1 178.1,325.0 179.1,324.7 180.1,324.3 181.1,324.0 182.1,323.8 183.1,323.8 184.1,323.9 185.1,324.0 186.1,324.1 187.1,324.3 188.1,324.8 189.1,325.5 190.1,326.0 191.1,326.5 192.1,327.0 193.1,327.4 194.1,327.6 195.1,327.7 196.1,327.8 197.1,327.8 198.1,327.8 199.1,327.7 200.1,327.4 201.1,326.9 202.1,326.4 203.1,325.9 204.1,325.4 205.1,324.9 206.1,324.4 207.1,323.9 208.1,323.4 209.1,322.9 210.1,322.4 211.1,321.9 212.1,321.4 213.1,320.9 214.1,320.4 215.1,319.9 216.1,319.4 217.1,319.0 218.1,318.7 219.1,318.5 220.1,318.3 221.1,318.1 222.1,318.0 223.1,317.9 224.1,318.0 225.1,318.1 226.1,318.2 227.1,318.3 228.1,318.5 229.1,318.7 230.1,319.0 231.1,319.4 232.1,319.8 233.1,320.2 234.1,320.7 235.1,321.2 236.0,321.8 237.0,322.5 238.0,323.3 239.0,324.2 240.0,325.2 241.0,326.2 242.0,327.1 243.0,328.1 244.0,329.1 245.0,329.8 246.0,330.1 247.0,330.2 248.0,330.3 249.0,330.3 250.0,330.3 251.0,330.3 252.0,330.2 253.0,330.1 254.0,329.9 255.0,329.8 256.0,329.9 257.0,329.9 258.0,329.9 259.0,330.0 260.0,330.1 261.0,330.2 262.0,330.5 263.0,330.9 264.0,331.3 265.0,331.8 266.0,332.4 267.0,333.0 268.0,333.7 269.0,334.5 270.0,335.4 271.0,336.5 272.0,337.8 273.0,339.0 274.0,340.1 275.0,341.2 276.0,342.3 277.0,343.1 278.0,343.7 279.0,344.3 280.0,344.7 281.0,344.9 282.0,344.8 283.0,344.7 284.0,344.5 285.0,344.3 286.0,344.1 287.0,343.7 288.0,343.2 289.0,342.7 290.0,342.2 291.0,341.7 292.0,341.2 293.0,340.8 294.0,340.3 295.0,339.8 296.0,339.4 297.0,339.0 298.0,338.6 299.0,338.2 300.0,337.8 301.0,337.5 302.0,337.3 303.0,337.0 304.0,336.8 305.0,336.6 306.0,336.4 307.0,336.3 308.0,336.2 309.0,336.1 310.0,336.1 311.0,336.1 312.0,336.3 313.0,336.5 314.0,336.7 315.0,336.9 316.0,337.2 317.0,337.5 318.0,337.9 319.0,338.1 320.0,338.2 321.0,338.2 322.0,338.1 323.0,338.1 324.0,338.0 325.0,337.9 326.0,337.7 327.0,337.3 328.0,336.9 329.0,336.5 330.0,336.1 331.0,335.8 332.0,335.5 333.0,335.2 334.0,334.9 335.0,334.8 336.0,334.9 337.0,334.9 338.0,335.0 339.0,335.2 340.0,335.3 341.0,335.6 342.0,336.2 343.0,336.8 344.0,337.4 345.0,337.9 346.0,338.5 347.0,339.0 347.9,339.4 348.9,339.6 349.9,339.8 350.9,340.0 351.9,340.1 352.9,340.1 353.9,340.1 354.9,340.0 355.9,339.9 356.9,339.8 357.9,339.7 358.9,339.5 359.9,339.4 360.9,339.1 361.9,338.9 362.9,338.7 363.9,338.6 364.9,338.4 365.9,338.3 366.9,338.2 367.9,338.1 368.9,338.0 369.9,337.9 370.9,337.7 371.9,337.6 372.9,337.5 373.9,337.3 374.9,337.2 375.9,337.1 376.9,337.0 377.9,336.9 378.9,336.9 379.9,336.8 380.9,336.8 381.9,336.7 382.9,336.7 383.9,336.7 384.9,336.7 385.9,336.8 386.9,336.8 387.9,336.9 388.9,337.0 389.9,337.1 390.9,337.2 391.9,337.4 392.9,337.6 393.9,337.8 394.9,338.1 395.9,338.3 396.9,338.6 397.9,338.8 398.9,339.1 399.9,339.3 400.9,339.5 401.9,339.7 402.9,339.9 403.9,340.0 404.9,340.1 405.9,340.2 406.9,340.3 407.9,340.3 408.9,340.3 409.9,340.3 410.9,340.3 411.9,340.3 412.9,340.2 413.9,340.2 414.9,340.1 415.9,340.0 416.9,340.0 417.9,339.8 418.9,339.7 419.9,339.6 420.9,339.5 421.9,339.4 422.9,339.4 423.9,339.3 424.9,339.3 425.9,339.2 426.9,339.2 427.9,339.2 428.9,339.2 429.9,339.3 430.9,339.4 431.9,339.4 432.9,339.5 433.9,339.6 434.9,339.7 435.9,339.7 436.9,339.8 437.9,339.9 438.9,340.0 439.9,340.1 440.9,340.1 441.9,340.2 442.9,340.2 443.9,340.3 444.9,340.3 445.9,340.3 446.9,340.3 447.9,340.3 448.9,340.3 449.9,340.3 450.9,340.3 451.9,340.3 452.9,340.3 453.9,340.3 454.9,340.3 455.9,340.3 456.9,340.3 457.9,340.2 458.8,340.1 459.8,340.0 460.8,339.9 461.8,339.8 462.8,339.7 463.8,339.6 464.8,339.5 465.8,339.4 466.8,339.3 467.8,339.3 468.8,339.2 469.8,339.1 470.8,339.1 471.8,339.0 472.8,339.0 473.8,338.9 474.8,338.9 475.8,338.9 476.8,338.8 477.8,338.8 478.8,339.0 479.8,339.1 480.8,339.1 481.8,339.1 482.8,339.0 483.8,339.0 484.8,339.0 485.8,338.9 486.8,338.9 487.8,338.8 488.8,338.8 489.8,338.7 490.8,338.7 491.8,338.6 492.8,338.6 493.8,338.5 494.8,338.5 495.8,338.5 496.8,338.5 497.8,338.4 498.8,338.4 499.8,338.4 500.8,338.3 501.8,338.3 502.8,338.3 503.8,338.2 504.8,338.2 505.8,338.2 506.8,338.2 507.8,338.1 508.8,338.1 509.8,338.1 510.8,338.1 511.8,338.1 512.8,338.0 513.8,338.0 514.8,338.0 515.8,337.9 516.8,337.9 517.8,337.9 518.8,337.8 519.8,337.8 520.8,337.7 521.8,337.7 522.8,337.6 523.8,337.6 524.8,337.5 525.8,337.5 526.8,337.5 527.8,337.4 528.8,337.4 529.8,337.3 530.8,337.3 531.8,337.3 532.8,337.3 533.8,337.2 534.8,337.2 535.8,337.2 536.8,337.2 537.8,337.1 538.8,337.1 539.8,337.1 540.8,337.1 541.8,337.1 542.8,337.0 543.8,337.0 544.8,337.0 545.8,337.0 546.8,337.0 547.8,336.9 548.8,336.9 549.8,336.9 550.8,336.9 551.8,336.9 552.8,336.9 553.8,336.9 554.8,336.8 555.8,336.8 556.8,336.8 557.8,336.8 558.8,336.8 559.8,336.8 560.8,336.8 561.8,336.8 562.8,336.8 563.8,336.7 564.8,336.7 565.8,336.7 566.8,336.7 567.8,336.7 568.8,336.7 569.8,336.7 570.7,336.7 571.7,336.7 572.7,336.7 573.7,336.7 574.7,336.6 575.7,336.6 576.7,336.6 577.7,336.6 578.7,336.6 579.7,336.6 580.7,336.6 581.7,336.6 582.7,336.6 583.7,336.5 584.7,336.5 585.7,336.5 586.7,336.5 587.7,336.5 588.7,336.5 589.7,336.5 590.7,336.4 591.7,336.4 592.7,336.4 593.7,336.4 594.7,336.4 595.7,336.4 596.7,336.3 597.7,336.3 598.7,336.3 599.7,336.3 600.7,336.3 601.7,336.3 602.7,336.3 603.7,336.2 604.7,336.2 605.7,336.2 606.7,336.2 607.7,336.2 608.7,336.2 609.7,336.1 610.7,336.1 611.7,336.1 612.7,336.1 613.7,336.1 614.7,336.1 615.7,336.0 616.7,336.0 617.7,336.0 618.7,336.0 619.7,336.0 620.7,336.0 621.7,336.0 622.7,335.9 623.7,335.9 624.7,335.9 625.7,335.9 626.7,335.9 627.7,335.9 628.7,335.9 629.7,335.8 630.7,335.8 631.7,335.8 632.7,335.8 633.7,335.8 634.7,335.8 635.7,335.8 636.7,335.8 637.7,335.8 638.7,335.7 639.7,335.7 640.7,335.7 641.7,335.7 642.7,335.7 643.7,335.7 644.7,335.7 645.7,335.7 646.7,335.7 647.7,335.7 648.7,335.7 649.7,335.6 650.7,335.6 651.7,335.6 652.7,335.6 653.7,335.6 654.7,335.6 655.7,335.6 656.7,335.6 657.7,335.6 658.7,335.5 659.7,335.5 660.7,335.5 661.7,335.5 662.7,335.5 663.7,335.5 664.7,335.5 665.7,335.5 666.7,335.4 667.7,335.4 668.7,335.4 669.7,335.4 670.7,335.4 671.7,335.4 672.7,335.4 673.7,335.3 674.7,335.3 675.7,335.3 676.7,335.3 677.7,335.3 678.7,335.3 679.7,335.3 680.7,335.2 681.6,335.2 682.6,335.2 683.6,335.2 684.6,335.2 685.6,335.2 686.6,335.2 687.6,335.2 688.6,335.2 689.6,335.2 690.6,335.1 691.6,335.1 692.6,335.1 693.6,335.1 694.6,335.1 695.6,335.1 696.6,335.1 697.6,335.1 698.6,335.1 699.6,335.1 700.6,335.1 701.6,335.0 702.6,335.0 703.6,335.0 704.6,335.0 705.6,335.0 706.6,335.0 707.6,335.0 708.6,335.0 709.6,335.0 710.6,335.0 711.6,335.0 712.6,335.0 713.6,334.9 714.6,334.9 715.6,334.9 716.6,334.9 717.6,334.9 718.6,334.9 719.6,334.9 720.6,334.9 721.6,334.9 722.6,334.9 723.6,334.9 724.6,334.9 725.6,334.9 726.6,334.9 727.6,334.9 728.6,334.8 729.6,334.8 730.6,334.8 731.6,334.8 732.6,334.8 733.6,334.8 734.6,334.8 735.6,334.8 736.6,334.8 737.6,334.8 738.6,334.8 739.6,334.8 740.6,334.8 741.6,334.8 742.6,334.8 743.6,334.8 744.6,334.7 745.6,334.7 746.6,334.7 747.6,334.7 748.6,334.7 749.6,334.7 750.6,334.7 751.6,334.7 752.6,334.7 753.6,334.7 754.6,334.7 755.6,334.7 756.6,334.7 757.6,334.7 758.6,334.7 759.6,334.7 760.6,334.7 761.6,334.7 762.6,334.7 763.6,334.6 764.6,334.6 765.6,334.6 766.6,334.6 767.6,334.6 768.6,334.6 769.6,334.6 770.6,334.6 771.6,334.6 772.6,334.6 773.6,334.6 774.6,334.6 775.6,334.6 776.6,334.6 777.6,334.6 778.6,334.6 779.6,334.6 779.8,334.6"/>
</g>
<g clip-path="url(#cpc)">
<path class="c" stroke="#000" d="M75.6,450.7 76.6,450.7 77.6,450.6 78.6,450.6 79.6,450.5 80.6,450.4 81.6,450.4 82.6,450.3 83.6,450.2 84.6,450.1 85.6,450.0 86.6,449.9 87.6,449.8 88.6,449.7 89.6,449.5 90.6,449.4 91.6,449.2 92.6,449.1 93.6,448.9 94.6,448.7 95.6,448.4 96.6,448.2 97.6,447.9 98.6,447.6 99.6,447.3 100.6,447.0 101.6,446.7 102.6,446.4 103.6,446.0 104.6,445.6 105.6,445.2 106.6,444.8 107.6,444.4 108.6,444.0 109.6,443.5 110.6,443.0 111.6,442.6 112.6,442.3 113.6,442.0 114.6,441.8 115.6,441.6 116.6,441.6 117.6,441.9 118.6,442.4 119.6,443.5 120.6,445.8 121.6,448.2 122.6,451.0 123.6,453.8 124.6,456.3 125.6,458.7 126.6,460.5 127.6,462.0 128.6,463.1 129.6,463.5 130.6,463.9 131.6,464.1 132.6,464.0 133.6,463.7 134.6,463.1 135.6,462.6 136.6,461.9 137.6,461.1 138.6,460.3 139.6,459.5 140.6,458.8 141.6,458.0 142.6,457.3 143.6,456.5 144.6,455.8 145.6,455.2 146.6,454.5 147.6,453.9 148.6,453.3 149.6,452.8 150.6,452.4 151.6,452.1 152.6,451.9 153.6,451.7 154.6,451.7 155.6,451.9 156.6,452.2 157.6,452.6 158.6,453.5 159.6,454.5 160.6,455.5 161.6,456.6 162.6,457.5 163.6,458.2 164.6,458.9 165.6,459.4 166.6,459.7 167.6,459.9 168.6,460.1 169.6,460.2 170.6,460.3 171.6,460.3 172.6,460.3 173.6,460.1 174.6,459.9 175.6,459.7 176.6,459.4 177.6,459.2 178.6,458.9 179.6,458.6 180.6,458.3 181.6,457.9 182.6,457.6 183.6,457.2 184.6,456.8 185.6,456.4 186.6,456.1 187.6,455.7 188.6,455.3 189.6,454.9 190.6,454.6 191.6,454.4 192.6,454.3 193.5,454.2 194.5,454.2 195.5,454.1 196.5,454.1 197.5,454.1 198.5,454.3 199.5,454.4 200.5,454.6 201.5,454.8 202.5,455.0 203.5,455.3 204.5,455.5 205.5,455.8 206.5,456.0 207.5,456.1 208.5,456.1 209.5,456.1 210.5,456.0 211.5,456.0 212.5,456.0 213.5,455.9 214.5,455.8 215.5,455.7 216.5,455.5 217.5,455.4 218.5,455.2 219.5,455.1 220.5,455.0 221.5,454.9 222.5,454.7 223.5,454.6 224.5,454.5 225.5,454.3 226.5,454.1 227.5,453.9 228.5,453.6 229.5,453.1 230.5,452.6 231.5,452.0 232.5,451.5 233.5,451.0 234.5,450.4 235.5,449.9 236.5,449.3 237.5,448.7 238.5,448.1 239.5,447.5 240.5,446.9 241.5,446.3 242.5,445.7 243.5,445.1 244.5,444.4 245.5,443.8 246.5,443.2 247.5,442.6 248.5,442.1 249.5,441.5 250.5,441.1 251.5,440.6 252.5,440.2 253.5,439.7 254.5,439.3 255.5,438.8 256.5,438.3 257.5,437.8 258.5,437.3 259.5,436.8 260.5,436.4 261.5,436.0 262.5,435.6 263.5,435.2 264.5,434.8 265.5,434.6 266.5,434.4 267.5,434.2 268.5,434.1 269.5,434.0 270.5,434.0 271.5,434.2 272.5,434.4 273.5,434.7 274.5,435.0 275.5,435.5 276.5,436.2 277.5,437.0 278.5,437.8 279.5,438.7 280.5,439.8 281.5,441.1 282.5,442.4 283.5,443.8 284.5,445.4 285.5,447.2 286.5,449.0 287.5,451.1 288.5,453.3 289.5,455.5 290.5,457.7 291.5,459.9 292.5,462.1 293.5,464.2 294.5,466.4 295.5,468.6 296.5,470.8 297.5,472.9 298.5,474.9 299.5,476.8 300.5,478.4 301.5,479.8 302.5,481.0 303.5,482.0 304.5,482.8 305.5,483.4 306.5,483.8 307.5,484.2 308.5,484.5 309.5,484.7 310.5,484.9 311.5,485.1 312.5,485.1 313.5,485.1 314.5,485.1 315.5,485.0 316.5,485.0 317.5,484.9 318.5,484.8 319.5,484.6 320.5,484.4 321.5,484.3 322.5,484.1 323.5,484.1 324.5,484.0 325.5,483.9 326.5,483.9 327.5,483.9 328.5,483.9 329.5,484.1 330.5,484.4 331.4,484.7 332.4,485.0 333.4,485.4 334.4,485.9 335.4,486.5 336.4,487.0 337.4,487.5 338.4,488.1 339.4,488.6 340.4,489.1 341.4,489.5 342.4,489.9 343.4,490.2 344.4,490.5 345.4,490.8 346.4,491.0 347.4,491.2 348.4,491.3 349.4,491.4 350.4,491.5 351.4,491.6 352.4,491.6 353.4,491.6 354.4,491.6 355.4,491.6 356.4,491.6 357.4,491.6 358.4,491.6 359.4,491.6 360.4,491.6 361.4,491.6 362.4,491.5 363.4,491.4 364.4,491.4 365.4,491.4 366.4,491.4 367.4,491.6 368.4,491.7 369.4,491.9 370.4,492.1 371.4,492.4 372.4,492.6 373.4,492.9 374.4,493.2 375.4,493.6 376.4,494.0 377.4,494.4 378.4,494.8 379.4,495.2 380.4,495.6 381.4,496.0 382.4,496.5 383.4,496.9 384.4,497.3 385.4,497.7 386.4,498.1 387.4,498.5 388.4,498.9 389.4,499.3 390.4,499.6 391.4,499.9 392.4,500.2 393.4,500.4 394.4,500.7 395.4,500.9 396.4,501.1 397.4,501.3 398.4,501.5 399.4,501.7 400.4,501.9 401.4,502.0 402.4,502.2 403.4,502.4 404.4,502.5 405.4,502.7 406.4,502.9 407.4,503.0 408.4,503.2 409.4,503.3 410.4,503.5 411.4,503.6 412.4,503.8 413.4,503.8 414.4,503.8 415.4,503.8 416.4,503.8 417.4,503.7 418.4,503.6 419.4,503.5 420.4,503.4 421.4,503.2 422.4,503.1 423.4,502.9 424.4,502.8 425.4,502.6 426.4,502.5 427.4,502.4 428.4,502.3 429.4,502.2 430.4,502.1 431.4,502.0 432.4,502.0 433.4,502.0 434.4,502.0 435.4,502.0 436.4,502.1 437.4,502.2 438.4,502.3 439.4,502.4 440.4,502.5 441.4,502.7 442.4,502.9 443.4,503.1 444.4,503.3 445.4,503.5 446.4,503.7 447.4,503.9 448.4,504.1 449.4,504.3 450.4,504.6 451.4,504.8 452.4,505.0 453.4,505.2 454.4,505.4 455.4,505.6 456.4,505.8 457.4,505.9 458.4,506.1 459.4,506.1 460.4,506.2 461.4,506.2 462.4,506.3 463.4,506.3 464.4,506.3 465.4,506.3 466.4,506.3 467.4,506.2 468.3,506.1 469.3,506.0 470.3,505.8 471.3,505.7 472.3,505.6 473.3,505.5 474.3,505.4 475.3,505.3 476.3,505.2 477.3,505.1 478.3,505.0 479.3,505.0 480.3,504.9 481.3,504.8 482.3,504.8 483.3,504.8 484.3,504.7 485.3,504.7 486.3,504.7 487.3,504.7 488.3,504.8 489.3,504.8 490.3,504.9 491.3,504.9 492.3,505.0 493.3,505.0 494.3,505.1 495.3,505.1 496.3,505.2 497.3,505.3 498.3,505.4 499.3,505.5 500.3,505.6 501.3,505.8 502.3,506.0 503.3,506.1 504.3,506.3 505.3,506.4 506.3,506.4 507.3,506.5 508.3,506.6 509.3,506.7 510.3,506.7 511.3,506.7 512.3,506.7 513.3,506.7 514.3,506.7 515.3,506.7 516.3,506.6 517.3,506.6 518.3,506.6 519.3,506.5 520.3,506.5 521.3,506.5 522.3,506.4 523.3,506.4 524.3,506.4 525.3,506.3 526.3,506.3 527.3,506.3 528.3,506.3 529.3,506.3 530.3,506.3 531.3,506.3 532.3,506.3 533.3,506.3 534.3,506.4 535.3,506.4 536.3,506.4 537.3,506.5 538.3,506.5 539.3,506.6 540.3,506.6 541.3,506.6 542.3,506.7 543.3,506.7 544.3,506.8 545.3,506.8 546.3,506.9 547.3,506.9 548.3,507.0 549.3,507.0 550.3,507.1 551.3,507.1 552.3,507.2 553.3,507.2 554.3,507.3 555.3,507.3 556.3,507.4 557.3,507.5 558.3,507.5 559.3,507.6 560.3,507.7 561.3,507.7 562.3,507.8 563.3,507.9 564.3,508.0 565.3,508.1 566.3,508.1 567.3,508.2 568.3,508.3 569.3,508.4 570.3,508.5 571.3,508.5 572.3,508.6 573.3,508.6 574.3,508.6 575.3,508.7 576.3,508.7 577.3,508.8 578.3,508.9 579.3,509.1 580.3,509.2 581.3,509.3 582.3,509.3 583.3,509.4 584.3,509.4 585.3,509.4 586.3,509.5 587.3,509.5 588.3,509.5 589.3,509.5 590.3,509.5 591.3,509.6 592.3,509.6 593.3,509.6 594.3,509.6 595.3,509.6 596.3,509.6 597.3,509.6 598.3,509.5 599.3,509.5 600.3,509.5 601.3,509.4 602.3,509.4 603.3,509.3 604.3,509.2 605.2,509.1 606.2,508.9 607.2,508.7 608.2,508.5 609.2,508.4 610.2,508.2 611.2,508.0 612.2,507.9 613.2,507.7 614.2,507.5 615.2,507.4 616.2,507.2 617.2,507.0 618.2,506.9 619.2,506.7 620.2,506.5 621.2,506.3 622.2,506.2 623.2,506.0 624.2,505.8 625.2,505.7 626.2,505.6 627.2,505.4 628.2,505.3 629.2,505.1 630.2,505.0 631.2,504.9 632.2,504.8 633.2,504.6 634.2,504.5 635.2,504.4 636.2,504.3 637.2,504.2 638.2,504.0 639.2,503.9 640.2,503.8 641.2,503.7 642.2,503.6 643.2,503.6 644.2,503.5 645.2,503.4 646.2,503.3 647.2,503.2 648.2,503.2 649.2,503.1 650.2,503.1 651.2,503.0 652.2,502.9 653.2,502.9 654.2,502.9 655.2,502.8 656.2,502.8 657.2,502.8 658.2,502.8 659.2,502.7 660.2,502.7 661.2,502.7 662.2,502.7 663.2,502.7 664.2,502.7 665.2,502.8 666.2,502.8 667.2,502.9 668.2,502.9 669.2,503.0 670.2,503.1 671.2,503.2 672.2,503.3 673.2,503.5 674.2,503.7 675.2,503.8 676.2,504.0 677.2,504.2 678.2,504.4 679.2,504.6 680.2,504.8 681.2,505.0 682.2,505.3 683.2,505.5 684.2,505.8 685.2,506.0 686.2,506.3 687.2,506.5 688.2,506.7 689.2,506.9 690.2,507.0 691.2,507.2 692.2,507.4 693.2,507.5 694.2,507.6 695.2,507.7 696.2,507.9 697.2,508.0 698.2,508.1 699.2,508.1 700.2,508.2 701.2,508.3 702.2,508.3 703.2,508.4 704.2,508.4 705.2,508.5 706.2,508.5 707.2,508.6 708.2,508.6 709.2,508.7 710.2,508.8 711.2,508.8 712.2,508.9 713.2,509.0 714.2,509.0 715.2,509.1 716.2,509.2 717.2,509.2 718.2,509.3 719.2,509.3 720.2,509.4 721.2,509.4 722.2,509.4 723.2,509.5 724.2,509.5 725.2,509.6 726.2,509.6 727.2,509.7 728.2,509.7 729.2,509.8 730.2,509.8 731.2,509.9 732.2,510.0 733.2,510.0 734.2,510.1 735.2,510.2 736.2,510.3 737.2,510.3 738.2,510.4 739.2,510.4 740.2,510.5 741.2,510.5 742.2,510.6 743.1,510.6 744.1,510.7 745.1,510.7 746.1,510.8 747.1,510.8 748.1,510.9 749.1,510.9 750.1,511.0 751.1,511.0 752.1,511.1 753.1,511.1 754.1,511.2 755.1,511.2 756.1,511.2 757.1,511.3 758.1,511.3 759.1,511.3 760.1,511.3 761.1,511.4 762.1,511.4 763.1,511.5 764.1,511.5 765.1,511.5 766.1,511.6 767.1,511.6 768.1,511.6 769.1,511.6 770.1,511.6 771.1,511.7 772.1,511.7 773.1,511.7 774.1,511.7 775.1,511.7 776.1,511.7 777.1,511.7 778.1,511.7 779.1,511.7 779.8,511.7"/>
<path class="c" stroke="#ff0000" d="M75.6,446.7 76.6,446.7 77.6,446.6 78.6,446.6 79.6,446.5 80.6,446.4 81.6,446.4 82.6,446.3 83.6,446.2 84.6,446.1 85.6,446.0 86.6,445.9 87.6,445.8 88.6,445.7 89.6,445.5 90.6,445.4 91.6,445.2 92.6,445.1 93.6,444.9 94.6,444.7 95.6,444.4 96.6,444.2 97.6,443.9 98.6,443.6 99.6,443.3 100.6,443.0 101.6,442.6 102.6,442.2 103.6,441.8 104.6,441.4 105.6,440.9 106.6,440.5 107.6,440.0 108.6,439.6 109.6,439.0 110.6,438.5 111.6,438.1 112.6,437.8 113.6,437.6 114.6,437.3 115.6,437.2 116.6,437.2 117.6,437.4 118.6,438.0 119.6,438.7 120.6,440.2 121.6,442.4 122.6,444.7 123.6,447.6 124.6,450.4 125.6,453.2 126.6,455.6 127.6,457.3 128.6,458.7 129.6,459.5 130.6,459.9 131.6,460.1 132.6,460.0 133.6,459.6 134.6,458.9 135.6,458.3 136.6,457.5 137.6,456.7 138.6,455.8 139.6,454.9 140.6,454.1 141.6,453.2 142.6,452.4 143.6,451.5 144.6,450.7 145.6,450.0 146.6,449.2 147.6,448.4 148.6,447.7 149.6,447.2 150.6,446.8 151.6,446.5 152.6,446.2 153.6,446.1 154.6,446.1 155.6,446.4 156.6,446.7 157.6,447.3 158.6,448.3 159.6,449.5 160.6,450.7 161.6,452.0 162.6,453.1 163.6,454.0 164.6,454.8 165.6,455.5 166.6,456.0 167.6,456.5 168.6,456.9 169.6,457.2 170.6,457.5 171.6,457.6 172.6,457.7 173.6,457.7 174.6,457.8 175.6,457.8 176.6,457.8 177.6,457.7 178.6,457.4 179.6,457.1 180.6,456.7 181.6,456.3 182.6,455.9 183.6,455.5 184.6,455.0 185.6,454.5 186.6,454.0 187.6,453.5 188.6,453.0 189.6,452.5 190.6,452.1 191.6,451.7 192.6,451.3 193.5,451.0 194.5,450.7 195.5,450.5 196.5,450.4 197.5,450.4 198.5,450.4 199.5,450.4 200.5,450.3 201.5,450.3 202.5,450.3 203.5,450.3 204.5,450.4 205.5,450.5 206.5,450.6 207.5,450.7 208.5,450.8 209.5,451.1 210.5,451.5 211.5,451.9 212.5,452.2 213.5,452.6 214.5,453.0 215.5,453.4 216.5,453.7 217.5,454.0 218.5,454.3 219.5,454.6 220.5,454.8 221.5,455.0 222.5,455.1 223.5,455.1 224.5,455.0 225.5,454.9 226.5,454.8 227.5,454.7 228.5,454.6 229.5,454.5 230.5,454.3 231.5,453.9 232.5,453.3 233.5,452.6 234.5,451.9 235.5,451.2 236.5,450.5 237.5,449.9 238.5,449.2 239.5,448.6 240.5,447.9 241.5,447.3 242.5,446.7 243.5,446.1 244.5,445.5 245.5,444.8 246.5,444.3 247.5,443.7 248.5,443.2 249.5,442.7 250.5,442.2 251.5,441.8 252.5,441.4 253.5,441.0 254.5,440.6 255.5,440.2 256.5,439.9 257.5,439.5 258.5,439.2 259.5,438.9 260.5,438.6 261.5,438.4 262.5,438.1 263.5,437.9 264.5,437.8 265.5,437.6 266.5,437.5 267.5,437.4 268.5,437.3 269.5,437.3 270.5,437.3 271.5,437.4 272.5,437.6 273.5,437.8 274.5,438.1 275.5,438.5 276.5,439.0 277.5,439.6 278.5,440.3 279.5,441.2 280.5,442.2 281.5,443.3 282.5,444.6 283.5,446.1 284.5,447.7 285.5,449.5 286.5,451.5 287.5,453.8 288.5,456.1 289.5,458.4 290.5,460.7 291.5,463.0 292.5,465.4 293.5,467.8 294.5,470.2 295.5,472.5 296.5,474.7 297.5,476.8 298.5,478.8 299.5,480.4 300.5,481.7 301.5,482.8 302.5,483.5 303.5,484.0 304.5,484.5 305.5,484.8 306.5,484.9 307.5,484.8 308.5,484.8 309.5,484.7 310.5,484.5 311.5,484.4 312.5,484.1 313.5,483.7 314.5,483.2 315.5,482.8 316.5,482.3 317.5,481.9 318.5,481.5 319.5,481.0 320.5,480.6 321.5,480.2 322.5,479.8 323.5,479.5 324.5,479.1 325.5,478.8 326.5,478.5 327.5,478.2 328.5,478.0 329.5,477.9 330.5,477.8 331.4,477.7 332.4,477.7 333.4,477.6 334.4,477.6 335.4,477.7 336.4,477.8 337.4,478.0 338.4,478.3 339.4,478.7 340.4,479.2 341.4,479.9 342.4,480.6 343.4,481.2 344.4,481.8 345.4,482.3 346.4,482.9 347.4,483.5 348.4,484.0 349.4,484.5 350.4,485.0 351.4,485.5 352.4,485.9 353.4,486.4 354.4,486.8 355.4,487.3 356.4,487.7 357.4,488.1 358.4,488.5 359.4,488.9 360.4,489.3 361.4,489.7 362.4,490.1 363.4,490.4 364.4,490.7 365.4,491.1 366.4,491.4 367.4,491.7 368.4,491.9 369.4,492.2 370.4,492.5 371.4,492.7 372.4,492.9 373.4,493.1 374.4,493.3 375.4,493.5 376.4,493.7 377.4,493.9 378.4,494.0 379.4,494.2 380.4,494.4 381.4,494.6 382.4,494.8 383.4,495.0 384.4,495.2 385.4,495.4 386.4,495.7 387.4,496.1 388.4,496.4 389.4,496.8 390.4,497.1 391.4,497.4 392.4,497.7 393.4,498.0 394.4,498.3 395.4,498.6 396.4,498.9 397.4,499.1 398.4,499.3 399.4,499.5 400.4,499.7 401.4,499.9 402.4,500.1 403.4,500.2 404.4,500.4 405.4,500.5 406.4,500.6 407.4,500.8 408.4,500.9 409.4,501.0 410.4,501.1 411.4,501.2 412.4,501.4 413.4,501.5 414.4,501.6 415.4,501.7 416.4,501.8 417.4,501.9 418.4,502.1 419.4,502.2 420.4,502.4 421.4,502.6 422.4,502.7 423.4,502.9 424.4,503.1 425.4,503.3 426.4,503.5 427.4,503.7 428.4,503.9 429.4,504.1 430.4,504.4 431.4,504.6 432.4,504.8 433.4,505.0 434.4,505.2 435.4,505.4 436.4,505.6 437.4,505.8 438.4,506.0 439.4,506.2 440.4,506.4 441.4,506.6 442.4,506.9 443.4,507.1 444.4,507.4 445.4,507.6 446.4,507.9 447.4,508.2 448.4,508.4 449.4,508.7 450.4,508.9 451.4,509.2 452.4,509.4 453.4,509.7 454.4,509.9 455.4,510.2 456.4,510.4 457.4,510.6 458.4,510.8 459.4,511.0 460.4,511.2 461.4,511.4 462.4,511.6 463.4,511.7 464.4,511.8 465.4,512.0 466.4,512.1 467.4,512.2 468.3,512.3 469.3,512.3 470.3,512.4 471.3,512.4 472.3,512.4 473.3,512.4 474.3,512.4 475.3,512.4 476.3,512.4 477.3,512.4 478.3,512.3 479.3,512.3 480.3,512.1 481.3,512.0 482.3,511.7 483.3,511.5 484.3,511.3 485.3,511.1 486.3,510.8 487.3,510.6 488.3,510.3 489.3,510.0 490.3,509.6 491.3,509.3 492.3,509.0 493.3,508.6 494.3,508.3 495.3,507.9 496.3,507.5 497.3,507.1 498.3,506.8 499.3,506.4 500.3,506.1 501.3,505.7 502.3,505.4 503.3,505.1 504.3,504.8 505.3,504.5 506.3,504.2 507.3,504.0 508.3,503.7 509.3,503.4 510.3,503.2 511.3,502.9 512.3,502.7 513.3,502.4 514.3,502.2 515.3,501.9 516.3,501.7 517.3,501.5 518.3,501.3 519.3,501.1 520.3,500.9 521.3,500.7 522.3,500.5 523.3,500.4 524.3,500.2 525.3,500.1 526.3,499.9 527.3,499.8 528.3,499.7 529.3,499.6 530.3,499.5 531.3,499.4 532.3,499.3 533.3,499.2 534.3,499.1 535.3,499.0 536.3,498.9 537.3,498.9 538.3,498.8 539.3,498.8 540.3,498.7 541.3,498.7 542.3,498.6 543.3,498.6 544.3,498.6 545.3,498.6 546.3,498.6 547.3,498.6 548.3,498.6 549.3,498.6 550.3,498.6 551.3,498.6 552.3,498.6 553.3,498.6 554.3,498.6 555.3,498.6 556.3,498.7 557.3,498.7 558.3,498.7 559.3,498.8 560.3,498.8 561.3,498.9 562.3,498.9 563.3,499.0 564.3,499.1 565.3,499.1 566.3,499.2 567.3,499.3 568.3,499.4 569.3,499.4 570.3,499.5 571.3,499.6 572.3,499.7 573.3,499.7 574.3,499.8 575.3,499.9 576.3,500.1 577.3,500.2 578.3,500.4 579.3,500.6 580.3,500.7 581.3,500.9 582.3,501.0 583.3,501.1 584.3,501.2 585.3,501.3 586.3,501.4 587.3,501.6 588.3,501.7 589.3,501.8 590.3,501.9 591.3,502.1 592.3,502.2 593.3,502.3 594.3,502.5 595.3,502.6 596.3,502.8 597.3,502.9 598.3,503.1 599.3,503.3 600.3,503.5 601.3,503.6 602.3,503.8 603.3,504.0 604.3,504.1 605.2,504.3 606.2,504.5 607.2,504.7 608.2,504.9 609.2,505.0 610.2,505.1 611.2,505.2 612.2,505.3 613.2,505.4 614.2,505.4 615.2,505.5 616.2,505.5 617.2,505.6 618.2,505.6 619.2,505.6 620.2,505.6 621.2,505.7 622.2,505.7 623.2,505.7 624.2,505.7 625.2,505.7 626.2,505.8 627.2,505.8 628.2,505.9 629.2,506.0 630.2,506.1 631.2,506.2 632.2,506.3 633.2,506.4 634.2,506.6 635.2,506.8 636.2,507.0 637.2,507.2 638.2,507.4 639.2,507.7 640.2,508.0 641.2,508.2 642.2,508.5 643.2,508.9 644.2,509.2 645.2,509.5 646.2,509.9 647.2,510.2 648.2,510.6 649.2,511.0 650.2,511.3 651.2,511.6 652.2,511.8 653.2,512.0 654.2,512.2 655.2,512.3 656.2,512.5 657.2,512.6 658.2,512.7 659.2,512.7 660.2,512.8 661.2,512.9 662.2,512.9 663.2,512.9 664.2,513.0 665.2,513.0 666.2,513.0 667.2,513.0 668.2,513.0 669.2,512.9 670.2,512.9 671.2,512.9 672.2,512.9 673.2,512.8 674.2,512.8 675.2,512.7 676.2,512.7 677.2,512.6 678.2,512.5 679.2,512.4 680.2,512.4 681.2,512.3 682.2,512.1 683.2,512.0 684.2,511.9 685.2,511.7 686.2,511.6 687.2,511.4 688.2,511.3 689.2,511.2 690.2,511.0 691.2,510.9 692.2,510.7 693.2,510.6 694.2,510.5 695.2,510.4 696.2,510.2 697.2,510.1 698.2,510.0 699.2,509.9 700.2,509.8 701.2,509.7 702.2,509.6 703.2,509.6 704.2,509.5 705.2,509.5 706.2,509.4 707.2,509.4 708.2,509.4 709.2,509.4 710.2,509.4 711.2,509.4 712.2,509.4 713.2,509.4 714.2,509.4 715.2,509.4 716.2,509.4 717.2,509.5 718.2,509.5 719.2,509.5 720.2,509.6 721.2,509.6 722.2,509.7 723.2,509.7 724.2,509.8 725.2,509.8 726.2,509.9 727.2,510.0 728.2,510.0 729.2,510.1 730.2,510.2 731.2,510.2 732.2,510.3 733.2,510.4 734.2,510.5 735.2,510.5 736.2,510.6 737.2,510.7 738.2,510.8 739.2,510.9 740.2,511.0 741.2,511.1 742.2,511.1 743.1,511.2 744.1,511.3 745.1,511.4 746.1,511.5 747.1,511.6 748.1,511.6 749.1,511.7 750.1,511.7 751.1,511.8 752.1,511.8 753.1,511.9 754.1,511.9 755.1,512.0 756.1,512.0 757.1,512.1 758.1,512.1 759.1,512.1 760.1,512.2 761.1,512.2 762.1,512.2 763.1,512.2 764.1,512.3 765.1,512.3 766.1,512.3 767.1,512.3 768.1,512.3 769.1,512.4 770.1,512.4 771.1,512.4 772.1,512.4 773.1,512.4 774.1,512.4 775.1,512.4 776.1,512.4 777.1,512.4 778.1,512.4 779.1,512.4 779.8,512.4"/>
</g>
<g clip-path="url(#cpd)">
<path class="c" stroke="#000" d="M917.3,183.6 917.5,183.6 918.5,183.6 919.5,183.6 920.5,183.6 921.5,183.6 922.5,183.6 923.5,183.6 924.5,183.6 925.5,183.6 926.5,183.6 927.4,183.6 928.4,183.6 929.4,183.6 930.4,183.6 931.4,183.6 932.4,183.6 933.4,183.5 934.4,183.5 935.4,183.5 936.4,183.5 937.4,183.5 938.4,183.5 939.4,183.5 940.4,183.5 941.4,183.5 942.4,183.5 943.4,183.5 944.4,183.5 945.4,183.5 946.4,183.5 947.4,183.4 948.4,183.4 949.4,183.4 950.4,183.4 951.4,183.4 952.4,183.4 953.4,183.4 954.4,183.4 955.4,183.4 956.4,183.3 957.4,183.3 958.4,183.3 959.4,183.3 960.4,183.3 961.4,183.3 962.4,183.3 963.4,183.3 964.4,183.2 965.4,183.2 966.4,183.2 967.4,183.2 968.4,183.2 969.4,183.2 970.4,183.2 971.4,183.2 972.4,183.1 973.4,183.1 974.4,183.1 975.4,183.1 976.4,183.1 977.4,183.1 978.4,183.0 979.4,183.0 980.4,183.0 981.4,183.0 982.4,183.0 983.4,183.0 984.4,182.9 985.4,182.9 986.4,182.9 987.4,182.9 988.4,182.9 989.4,182.9 990.4,182.8 991.4,182.8 992.4,182.8 993.4,182.8 994.4,182.8 995.4,182.8 996.4,182.7 997.4,182.7 998.4,182.7 999.4,182.7 1000.4,182.7 1001.4,182.6 1002.4,182.6 1003.4,182.6 1004.4,182.6 1005.4,182.6 1006.4,182.6 1007.4,182.5 1008.4,182.5 1009.4,182.5 1010.4,182.5 1011.4,182.4 1012.4,182.4 1013.4,182.4 1014.4,182.4 1015.4,182.4 1016.4,182.3 1017.4,182.3 1018.4,182.3 1019.4,182.2 1020.4,182.2 1021.4,182.2 1022.4,182.2 1023.4,182.1 1024.4,182.1 1025.4,182.1 1026.4,182.0 1027.4,182.0 1028.4,182.0 1029.4,181.9 1030.4,181.9 1031.4,181.9 1032.4,181.8 1033.4,181.8 1034.4,181.7 1035.4,181.7 1036.4,181.6 1037.4,181.6 1038.4,181.5 1039.4,181.5 1040.4,181.4 1041.4,181.4 1042.4,181.3 1043.4,181.3 1044.4,181.2 1045.4,181.2 1046.4,181.1 1047.3,181.1 1048.3,181.0 1049.3,181.0 1050.3,180.9 1051.3,180.9 1052.3,180.8 1053.3,180.7 1054.3,180.7 1055.3,180.6 1056.3,180.6 1057.3,180.5 1058.3,180.4 1059.3,180.3 1060.3,180.3 1061.3,180.2 1062.3,180.1 1063.3,180.0 1064.3,179.9 1065.3,179.8 1066.3,179.7 1067.3,179.6 1068.3,179.5 1069.3,179.4 1070.3,179.3 1071.3,179.1 1072.3,179.0 1073.3,178.9 1074.3,178.7 1075.3,178.6 1076.3,178.4 1077.3,178.2 1078.3,178.0 1079.3,177.8 1080.3,177.6 1081.3,177.4 1082.3,177.2 1083.3,176.9 1084.3,176.7 1085.3,176.4 1086.3,176.1 1087.3,175.7 1088.3,175.4 1089.3,175.0 1090.3,174.6 1091.3,174.1 1092.3,173.6 1093.3,173.1 1094.3,172.6 1095.3,172.0 1096.3,171.3 1097.3,170.7 1098.3,169.9 1099.3,169.1 1100.3,168.2 1101.3,167.3 1102.3,166.2 1103.3,165.0 1104.3,163.7 1105.3,162.3 1106.3,160.6 1107.3,158.8 1108.3,156.7 1109.3,154.4 1110.3,151.7 1111.3,148.8 1112.3,145.6 1113.3,142.0 1114.3,138.1 1115.3,134.1 1116.3,130.5 1117.3,127.0 1118.3,123.7 1119.3,120.1 1120.3,115.5 1121.3,110.0 1122.3,104.0 1123.3,97.9 1124.3,92.2 1125.3,87.2 1126.3,83.0 1127.3,78.9 1128.3,74.8 1129.3,71.1 1130.3,67.8 1131.3,64.7 1132.3,62.0 1133.3,60.3 1134.3,59.0 1135.3,58.1 1136.3,57.4 1137.3,56.8 1138.3,56.6 1139.3,56.6 1140.3,56.6 1141.3,56.6 1142.3,56.6 1143.3,56.6 1144.3,56.6 1145.3,56.4 1146.3,55.7 1147.3,54.8 1148.3,53.5 1149.3,51.7 1150.3,49.9 1151.3,47.9 1152.3,45.8 1153.3,43.8 1154.3,42.0 1155.3,40.3 1156.3,39.0 1157.3,38.0 1158.3,37.3 1159.3,37.2 1160.3,37.6 1161.3,38.4 1162.3,39.7 1163.3,42.0 1164.3,44.7 1165.3,48.1 1166.3,51.9 1167.2,55.9 1168.2,60.0 1169.2,63.7 1170.2,66.9 1171.2,69.7 1172.2,71.8 1173.2,73.6 1174.2,74.8 1175.2,75.7 1176.2,76.4 1177.2,77.1 1178.2,77.9 1179.2,78.6 1180.2,79.4 1181.2,80.4 1182.2,81.9 1183.2,83.5 1184.2,85.1 1185.2,86.7 1186.2,88.3 1187.2,89.9 1188.2,91.5 1189.2,92.4 1190.2,92.8 1191.2,93.1 1192.2,93.1 1193.2,93.1 1194.2,92.9 1195.2,92.7 1196.2,92.4 1197.2,92.0 1198.2,91.4 1199.2,90.6 1200.2,89.8 1201.2,88.8 1202.2,87.7 1203.2,86.4 1204.2,85.1 1205.2,83.7 1206.2,82.2 1207.2,80.5 1208.2,78.6 1209.2,76.5 1210.2,74.3 1211.2,71.8 1212.2,69.0 1213.2,66.1 1214.2,63.3 1215.2,60.6 1216.2,57.9 1217.2,55.6 1218.2,53.4 1219.2,51.5 1220.2,50.1 1221.2,49.4 1222.2,48.9 1223.2,48.9 1224.2,49.6 1225.2,50.6 1226.2,52.2 1227.2,54.7 1228.2,57.6 1229.2,61.3 1230.2,64.8 1231.2,67.1 1232.2,69.8 1233.2,74.8 1234.2,79.3 1235.2,83.2 1236.2,86.7 1237.2,89.6 1238.2,92.3 1239.2,94.6 1240.2,96.6 1241.2,98.3 1242.2,99.9 1243.2,101.4 1244.2,102.6 1245.2,103.8 1246.2,104.9 1247.2,106.0 1248.2,107.1 1249.2,108.2 1250.2,109.1 1251.2,109.8 1252.2,110.4 1253.2,110.9 1254.2,111.3 1255.2,111.6 1256.2,111.9 1257.2,112.2 1258.2,112.4 1259.2,112.6 1260.2,112.9 1261.2,113.1 1262.2,113.3 1263.2,113.6 1264.2,113.8 1265.2,114.1 1266.2,114.5 1267.2,114.9 1268.2,115.3 1269.2,115.7 1270.2,116.1 1271.2,116.5 1272.2,116.9 1273.2,117.3 1274.2,117.6 1275.2,117.9 1276.2,118.1 1277.2,118.2 1278.2,118.4 1279.2,118.5 1280.2,118.5 1281.2,118.5 1282.2,118.4 1283.2,118.3 1284.2,118.3 1285.2,118.2 1286.2,118.3 1287.2,118.3 1288.1,118.4 1289.1,118.5 1290.1,118.5 1291.1,118.4 1292.1,118.3 1293.1,118.0 1294.1,117.8 1295.1,117.4 1296.1,116.9 1297.1,116.7 1298.1,116.8 1299.1,116.9 1300.1,117.0 1301.1,117.3 1302.1,117.8 1303.1,118.4 1304.1,119.0 1305.1,119.6 1306.1,120.4 1307.1,121.2 1308.1,122.0 1309.1,123.1 1310.1,124.2 1311.1,125.4 1312.1,126.6 1313.1,128.0 1314.1,129.4 1315.1,130.7 1316.1,132.0 1317.1,133.2 1318.1,134.4 1319.1,135.3 1320.1,136.1 1321.1,136.7 1322.1,137.0 1323.1,137.2 1324.1,137.3 1325.1,137.4 1326.1,137.4 1327.1,137.2 1328.1,136.9 1329.1,136.5 1330.1,136.2 1331.1,135.9 1332.1,135.6 1333.1,135.4 1334.1,135.2 1335.1,135.1 1336.1,135.1 1337.1,135.1 1338.1,135.1 1339.1,135.1 1340.1,135.1 1341.1,135.2 1342.1,135.2 1343.1,135.2 1344.1,135.3 1345.1,135.4 1346.1,135.5 1347.1,135.6 1348.1,135.8 1349.1,136.0 1350.1,136.3 1351.1,136.7 1352.1,137.0 1353.1,137.4 1354.1,137.7 1355.1,138.2 1356.1,138.7 1357.1,139.2 1358.1,140.0 1359.1,141.0 1360.1,141.9 1361.1,142.9 1362.1,143.8 1363.1,144.6 1364.1,145.4 1365.1,146.0 1366.1,146.6 1367.1,147.1 1368.1,147.6 1369.1,147.9 1370.1,148.2 1371.1,148.4 1372.1,148.6 1373.1,148.7 1374.1,148.9 1375.1,148.9 1376.1,149.0 1377.1,149.1 1378.1,149.1 1379.1,149.1 1380.1,149.2 1381.1,149.3 1382.1,149.3 1383.1,149.4 1384.1,149.5 1385.1,149.6 1386.1,149.7 1387.1,149.8 1388.1,149.9 1389.1,150.1 1390.1,150.4 1391.1,150.6 1392.1,150.9 1393.1,151.4 1394.1,151.9 1395.1,152.5 1396.1,153.0 1397.1,153.5 1398.1,154.0 1399.1,154.5 1400.1,154.8 1401.1,155.1 1402.1,155.3 1403.1,155.4 1404.1,155.5 1405.1,155.4 1406.1,155.2 1407.1,154.9 1408.0,154.6 1409.0,154.1 1410.0,153.4 1411.0,152.7 1412.0,152.0 1413.0,151.4 1414.0,150.8 1415.0,150.3 1416.0,149.8 1417.0,149.6 1418.0,149.4 1419.0,149.2 1420.0,149.1 1421.0,149.1 1422.0,149.2 1423.0,149.4 1424.0,149.7 1425.0,150.0 1426.0,150.4 1427.0,150.9 1428.0,151.4 1429.0,151.9 1430.0,152.3 1431.0,152.5 1432.0,152.8 1433.0,153.0 1434.0,153.1 1435.0,153.2 1436.0,153.2 1437.0,153.0 1438.0,152.8 1439.0,152.5 1440.0,152.3 1441.0,152.1 1442.0,151.8 1443.0,151.5 1444.0,151.3 1445.0,151.1 1446.0,151.1 1447.0,151.0 1448.0,151.0 1449.0,151.0 1450.0,151.0 1451.0,151.0 1452.0,151.0 1453.0,150.9 1454.0,150.8 1455.0,150.8 1456.0,150.7 1457.0,150.6 1458.0,150.5 1459.0,150.3 1460.0,150.1 1461.0,149.9 1462.0,149.8 1463.0,149.6 1464.0,149.5 1465.0,149.4 1466.0,149.3 1467.0,149.3 1468.0,149.3 1469.0,149.2 1470.0,149.1 1471.0,149.0 1472.0,148.9 1473.0,148.6 1474.0,148.4 1475.0,148.1 1476.0,147.7 1477.0,147.2 1478.0,146.7 1479.0,146.0 1480.0,145.3 1481.0,144.6 1482.0,143.8 1483.0,143.0 1484.0,142.5 1485.0,142.1 1486.0,141.7 1487.0,141.4 1488.0,141.3 1489.0,141.3 1490.0,141.3 1491.0,141.3 1492.0,141.3 1493.0,141.3 1494.0,141.4 1495.0,141.6 1496.0,141.9 1497.0,142.3 1498.0,142.5 1499.0,142.8 1500.0,143.1 1501.0,143.3 1502.0,143.5 1503.0,143.6 1504.0,143.6 1505.0,143.5 1506.0,143.4 1507.0,143.3 1508.0,143.2 1509.0,143.0 1510.0,142.6 1511.0,142.2 1512.0,141.6 1513.0,141.2 1514.0,140.7 1515.0,140.3 1516.0,139.9 1517.0,139.6 1518.0,139.4 1519.0,139.3 1520.0,139.2 1521.0,139.1 1522.0,139.1 1523.0,139.1 1524.0,139.2 1525.0,139.4 1526.0,139.6 1527.0,139.8 1527.9,140.1 1528.9,140.4 1529.9,140.7 1530.9,141.0 1531.9,141.3 1532.9,141.6 1533.9,141.8 1534.9,142.0 1535.9,142.1 1536.9,142.3 1537.9,142.5 1538.9,142.7 1539.9,142.9 1540.9,143.1 1541.9,143.3 1542.9,143.5 1543.9,143.7 1544.9,143.9 1545.9,144.1 1546.9,144.3 1547.9,144.5 1548.9,144.8 1549.9,145.0 1550.9,145.2 1551.9,145.4 1552.9,145.6 1553.9,145.9 1554.9,146.1 1555.9,146.4 1556.9,146.6 1557.9,146.9 1558.9,147.1 1559.9,147.4 1560.9,147.6 1561.9,147.9 1562.9,148.1 1563.9,148.3 1564.9,148.6 1565.9,148.8 1566.9,149.1 1567.9,149.4 1568.9,149.7 1569.9,150.0 1570.9,150.4 1571.9,150.8 1572.9,151.3 1573.9,151.7 1574.9,152.1 1575.9,152.6 1576.9,153.1 1577.9,153.5 1578.9,154.0 1579.9,154.5 1580.9,154.9 1581.9,155.3 1582.9,155.8 1583.9,156.2 1584.9,156.6 1585.9,157.0 1586.9,157.3 1587.9,157.6 1588.9,157.9 1589.9,158.1 1590.9,158.3 1591.9,158.5 1592.9,158.6 1593.9,158.6 1594.9,158.6 1595.9,158.6 1596.9,158.6 1597.9,158.6 1598.9,158.5 1599.9,158.5 1600.9,158.5 1601.9,158.4 1602.9,158.4 1603.9,158.3 1604.9,158.2 1605.9,158.1 1606.9,158.0 1607.9,158.0 1608.9,158.0 1609.9,158.0 1610.9,158.0 1611.9,158.0 1612.9,158.0 1613.9,158.0 1614.9,158.0 1615.9,158.0 1616.9,158.0 1617.9,158.0 1618.9,158.1 1619.9,158.2 1620.9,158.3 1621.9,158.4 1622.9,158.6 1623.9,158.7 1624.9,158.9 1625.4,158.9"/>
<path class="c" stroke="#ff0000" d="M917.3,183.5 917.5,183.5 918.5,183.5 919.5,183.5 920.5,183.5 921.5,183.5 922.5,183.5 923.5,183.5 924.5,183.4 925.5,183.4 926.5,183.4 927.4,183.4 928.4,183.4 929.4,183.4 930.4,183.4 931.4,183.4 932.4,183.4 933.4,183.3 934.4,183.3 935.4,183.3 936.4,183.3 937.4,183.3 938.4,183.3 939.4,183.3 940.4,183.2 941.4,183.2 942.4,183.2 943.4,183.2 944.4,183.2 945.4,183.2 946.4,183.1 947.4,183.1 948.4,183.1 949.4,183.1 950.4,183.1 951.4,183.0 952.4,183.0 953.4,183.0 954.4,183.0 955.4,182.9 956.4,182.9 957.4,182.9 958.4,182.9 959.4,182.8 960.4,182.8 961.4,182.8 962.4,182.8 963.4,182.7 964.4,182.7 965.4,182.7 966.4,182.7 967.4,182.6 968.4,182.6 969.4,182.6 970.4,182.6 971.4,182.5 972.4,182.5 973.4,182.5 974.4,182.5 975.4,182.4 976.4,182.4 977.4,182.4 978.4,182.4 979.4,182.3 980.4,182.3 981.4,182.3 982.4,182.3 983.4,182.2 984.4,182.2 985.4,182.2 986.4,182.2 987.4,182.1 988.4,182.1 989.4,182.1 990.4,182.1 991.4,182.0 992.4,182.0 993.4,182.0 994.4,182.0 995.4,181.9 996.4,181.9 997.4,181.9 998.4,181.9 999.4,181.8 1000.4,181.8 1001.4,181.8 1002.4,181.8 1003.4,181.7 1004.4,181.7 1005.4,181.7 1006.4,181.6 1007.4,181.6 1008.4,181.6 1009.4,181.6 1010.4,181.5 1011.4,181.5 1012.4,181.5 1013.4,181.5 1014.4,181.4 1015.4,181.4 1016.4,181.4 1017.4,181.3 1018.4,181.3 1019.4,181.3 1020.4,181.2 1021.4,181.2 1022.4,181.2 1023.4,181.1 1024.4,181.1 1025.4,181.1 1026.4,181.0 1027.4,181.0 1028.4,181.0 1029.4,180.9 1030.4,180.9 1031.4,180.9 1032.4,180.8 1033.4,180.8 1034.4,180.7 1035.4,180.7 1036.4,180.6 1037.4,180.6 1038.4,180.6 1039.4,180.5 1040.4,180.5 1041.4,180.4 1042.4,180.4 1043.4,180.3 1044.4,180.2 1045.4,180.2 1046.4,180.1 1047.3,180.1 1048.3,180.0 1049.3,179.9 1050.3,179.9 1051.3,179.8 1052.3,179.7 1053.3,179.6 1054.3,179.5 1055.3,179.5 1056.3,179.4 1057.3,179.3 1058.3,179.2 1059.3,179.1 1060.3,179.0 1061.3,178.9 1062.3,178.8 1063.3,178.7 1064.3,178.5 1065.3,178.4 1066.3,178.3 1067.3,178.1 1068.3,178.0 1069.3,177.8 1070.3,177.6 1071.3,177.4 1072.3,177.2 1073.3,177.0 1074.3,176.7 1075.3,176.4 1076.3,176.2 1077.3,175.9 1078.3,175.6 1079.3,175.2 1080.3,174.9 1081.3,174.5 1082.3,174.1 1083.3,173.6 1084.3,173.1 1085.3,172.6 1086.3,172.0 1087.3,171.4 1088.3,170.7 1089.3,169.9 1090.3,169.0 1091.3,168.0 1092.3,166.9 1093.3,165.7 1094.3,164.3 1095.3,162.7 1096.3,160.8 1097.3,158.7 1098.3,156.0 1099.3,153.0 1100.3,149.4 1101.3,145.3 1102.3,140.6 1103.3,135.6 1104.3,130.7 1105.3,126.0 1106.3,123.5 1107.3,122.7 1108.3,120.2 1109.3,116.4 1110.3,113.2 1111.3,110.3 1112.3,108.3 1113.3,106.8 1114.3,106.3 1115.3,106.3 1116.3,106.5 1117.3,107.6 1118.3,108.6 1119.3,109.0 1120.3,109.3 1121.3,109.4 1122.3,109.3 1123.3,109.1 1124.3,108.7 1125.3,108.0 1126.3,106.9 1127.3,105.5 1128.3,104.2 1129.3,102.7 1130.3,101.3 1131.3,100.1 1132.3,99.1 1133.3,98.2 1134.3,97.2 1135.3,96.3 1136.3,95.3 1137.3,94.1 1138.3,92.8 1139.3,91.2 1140.3,89.2 1141.3,86.4 1142.3,83.1 1143.3,80.1 1144.3,77.7 1145.3,75.5 1146.3,73.5 1147.3,71.5 1148.3,69.5 1149.3,67.6 1150.3,65.9 1151.3,64.4 1152.3,63.0 1153.3,61.8 1154.3,61.2 1155.3,60.8 1156.3,60.8 1157.3,61.6 1158.3,63.0 1159.3,65.6 1160.3,68.4 1161.3,71.5 1162.3,74.5 1163.3,77.5 1164.3,80.2 1165.3,82.1 1166.3,83.6 1167.2,84.1 1168.2,84.1 1169.2,84.1 1170.2,82.9 1171.2,81.1 1172.2,78.0 1173.2,74.1 1174.2,69.3 1175.2,64.1 1176.2,58.7 1177.2,53.3 1178.2,48.0 1179.2,43.1 1180.2,38.7 1181.2,34.7 1182.2,31.5 1183.2,28.9 1184.2,27.2 1185.2,26.0 1186.2,25.6 1187.2,25.4 1188.2,25.7 1189.2,26.8 1190.2,27.9 1191.2,29.4 1192.2,30.8 1193.2,32.1 1194.2,33.3 1195.2,34.4 1196.2,35.5 1197.2,36.5 1198.2,37.5 1199.2,38.4 1200.2,39.1 1201.2,39.8 1202.2,40.5 1203.2,41.2 1204.2,41.9 1205.2,42.6 1206.2,43.3 1207.2,44.0 1208.2,44.8 1209.2,45.7 1210.2,46.7 1211.2,47.8 1212.2,49.1 1213.2,50.5 1214.2,52.1 1215.2,53.7 1216.2,55.6 1217.2,57.7 1218.2,59.7 1219.2,61.7 1220.2,63.6 1221.2,64.8 1222.2,65.6 1223.2,66.1 1224.2,66.0 1225.2,65.5 1226.2,64.9 1227.2,63.4 1228.2,61.7 1229.2,60.0 1230.2,58.7 1231.2,58.1 1232.2,57.8 1233.2,58.3 1234.2,59.3 1235.2,61.6 1236.2,64.6 1237.2,67.9 1238.2,71.6 1239.2,75.3 1240.2,79.4 1241.2,83.4 1242.2,87.5 1243.2,91.0 1244.2,94.0 1245.2,96.7 1246.2,98.9 1247.2,101.0 1248.2,102.6 1249.2,103.9 1250.2,105.1 1251.2,106.1 1252.2,106.7 1253.2,107.2 1254.2,107.6 1255.2,107.9 1256.2,108.2 1257.2,108.4 1258.2,108.6 1259.2,108.8 1260.2,108.9 1261.2,109.1 1262.2,109.2 1263.2,109.4 1264.2,109.6 1265.2,109.8 1266.2,109.8 1267.2,109.8 1268.2,109.7 1269.2,109.6 1270.2,109.5 1271.2,109.2 1272.2,108.8 1273.2,108.5 1274.2,108.5 1275.2,108.5 1276.2,108.5 1277.2,108.5 1278.2,108.5 1279.2,108.9 1280.2,109.5 1281.2,110.1 1282.2,111.0 1283.2,112.1 1284.2,113.2 1285.2,114.3 1286.2,115.6 1287.2,116.9 1288.1,118.4 1289.1,120.2 1290.1,122.1 1291.1,123.9 1292.1,125.4 1293.1,126.6 1294.1,127.8 1295.1,128.8 1296.1,129.9 1297.1,130.9 1298.1,132.0 1299.1,133.0 1300.1,134.0 1301.1,135.0 1302.1,136.0 1303.1,136.8 1304.1,137.7 1305.1,138.4 1306.1,139.2 1307.1,140.0 1308.1,140.8 1309.1,141.6 1310.1,142.5 1311.1,143.4 1312.1,144.3 1313.1,145.2 1314.1,146.1 1315.1,146.9 1316.1,147.7 1317.1,148.5 1318.1,149.3 1319.1,149.9 1320.1,150.5 1321.1,151.1 1322.1,151.6 1323.1,151.9 1324.1,152.0 1325.1,152.0 1326.1,152.0 1327.1,152.0 1328.1,152.0 1329.1,152.0 1330.1,152.0 1331.1,152.1 1332.1,152.2 1333.1,152.3 1334.1,152.4 1335.1,152.5 1336.1,152.6 1337.1,152.7 1338.1,152.8 1339.1,152.8 1340.1,152.8 1341.1,152.6 1342.1,152.4 1343.1,152.2 1344.1,151.9 1345.1,151.5 1346.1,150.9 1347.1,150.3 1348.1,149.6 1349.1,148.8 1350.1,148.0 1351.1,147.1 1352.1,146.2 1353.1,145.3 1354.1,144.4 1355.1,143.6 1356.1,142.8 1357.1,142.2 1358.1,141.6 1359.1,141.1 1360.1,140.7 1361.1,140.4 1362.1,140.2 1363.1,140.0 1364.1,139.9 1365.1,139.8 1366.1,139.8 1367.1,139.9 1368.1,140.0 1369.1,140.2 1370.1,140.3 1371.1,140.5 1372.1,140.8 1373.1,141.0 1374.1,141.3 1375.1,141.6 1376.1,141.9 1377.1,142.1 1378.1,142.2 1379.1,142.4 1380.1,142.5 1381.1,142.7 1382.1,142.8 1383.1,143.0 1384.1,143.3 1385.1,143.6 1386.1,144.0 1387.1,144.3 1388.1,144.6 1389.1,144.9 1390.1,145.1 1391.1,145.4 1392.1,145.6 1393.1,145.8 1394.1,145.8 1395.1,145.8 1396.1,145.6 1397.1,145.4 1398.1,145.2 1399.1,144.9 1400.1,144.4 1401.1,143.9 1402.1,143.4 1403.1,142.8 1404.1,142.1 1405.1,141.3 1406.1,140.5 1407.1,139.6 1408.0,138.8 1409.0,138.0 1410.0,137.1 1411.0,136.2 1412.0,135.3 1413.0,134.4 1414.0,133.6 1415.0,132.8 1416.0,132.0 1417.0,131.2 1418.0,130.5 1419.0,129.7 1420.0,128.8 1421.0,128.1 1422.0,127.4 1423.0,126.8 1424.0,126.2 1425.0,125.7 1426.0,125.2 1427.0,125.0 1428.0,125.1 1429.0,125.1 1430.0,125.3 1431.0,125.4 1432.0,125.5 1433.0,125.7 1434.0,125.8 1435.0,126.0 1436.0,126.0 1437.0,125.9 1438.0,125.7 1439.0,125.4 1440.0,125.1 1441.0,124.9 1442.0,124.6 1443.0,124.4 1444.0,124.2 1445.0,124.1 1446.0,124.0 1447.0,124.1 1448.0,124.1 1449.0,124.1 1450.0,124.1 1451.0,124.2 1452.0,124.2 1453.0,124.2 1454.0,124.3 1455.0,124.4 1456.0,124.6 1457.0,124.8 1458.0,125.2 1459.0,125.7 1460.0,126.3 1461.0,127.0 1462.0,127.8 1463.0,128.7 1464.0,129.5 1465.0,130.4 1466.0,131.2 1467.0,132.0 1468.0,132.8 1469.0,133.5 1470.0,134.2 1471.0,134.8 1472.0,135.4 1473.0,136.0 1474.0,136.4 1475.0,136.8 1476.0,137.0 1477.0,137.2 1478.0,137.3 1479.0,137.4 1480.0,137.5 1481.0,137.6 1482.0,137.7 1483.0,137.7 1484.0,137.8 1485.0,137.9 1486.0,138.0 1487.0,138.2 1488.0,138.4 1489.0,138.7 1490.0,139.1 1491.0,139.5 1492.0,140.0 1493.0,140.5 1494.0,141.1 1495.0,141.7 1496.0,142.3 1497.0,142.9 1498.0,143.5 1499.0,143.9 1500.0,144.3 1501.0,144.6 1502.0,144.8 1503.0,145.1 1504.0,145.2 1505.0,145.3 1506.0,145.4 1507.0,145.5 1508.0,145.7 1509.0,145.9 1510.0,146.1 1511.0,146.3 1512.0,146.6 1513.0,146.9 1514.0,147.2 1515.0,147.6 1516.0,148.0 1517.0,148.4 1518.0,148.8 1519.0,149.1 1520.0,149.5 1521.0,149.8 1522.0,150.1 1523.0,150.3 1524.0,150.4 1525.0,150.5 1526.0,150.6 1527.0,150.7 1527.9,150.7 1528.9,150.7 1529.9,150.5 1530.9,150.3 1531.9,150.0 1532.9,149.8 1533.9,149.5 1534.9,149.2 1535.9,149.0 1536.9,148.7 1537.9,148.6 1538.9,148.6 1539.9,148.6 1540.9,148.7 1541.9,148.7 1542.9,148.8 1543.9,148.9 1544.9,149.1 1545.9,149.4 1546.9,149.7 1547.9,150.0 1548.9,150.3 1549.9,150.6 1550.9,150.9 1551.9,151.2 1552.9,151.3 1553.9,151.3 1554.9,151.3 1555.9,151.3 1556.9,151.3 1557.9,151.3 1558.9,151.3 1559.9,151.2 1560.9,151.1 1561.9,150.9 1562.9,150.7 1563.9,150.5 1564.9,150.4 1565.9,150.3 1566.9,150.3 1567.9,150.2 1568.9,150.1 1569.9,150.1 1570.9,150.1 1571.9,150.1 1572.9,150.1 1573.9,150.1 1574.9,150.1 1575.9,150.1 1576.9,150.1 1577.9,150.1 1578.9,150.1 1579.9,150.2 1580.9,150.2 1581.9,150.4 1582.9,150.5 1583.9,150.6 1584.9,150.8 1585.9,150.9 1586.9,151.1 1587.9,151.3 1588.9,151.6 1589.9,151.8 1590.9,152.0 1591.9,152.2 1592.9,152.4 1593.9,152.6 1594.9,152.9 1595.9,153.0 1596.9,153.2 1597.9,153.3 1598.9,153.5 1599.9,153.6 1600.9,153.7 1601.9,153.8 1602.9,153.8 1603.9,153.8 1604.9,153.8 1605.9,153.8 1606.9,153.7 1607.9,153.6 1608.9,153.6 1609.9,153.6 1610.9,153.6 1611.9,153.6 1612.9,153.7 1613.9,153.7 1614.9,153.8 1615.9,153.9 1616.9,153.9 1617.9,154.0 1618.9,154.1 1619.9,154.2 1620.9,154.3 1621.9,154.4 1622.9,154.5 1623.9,154.6 1624.9,154.7 1625.4,154.7"/>
</g>
<g clip-path="url(#cpe)">
<path class="c" stroke="#000" d="M917.3,353.6 917.8,353.6 918.8,353.5 919.7,353.3 920.7,353.1 921.7,352.9 922.7,352.6 923.7,352.4 924.7,352.1 925.7,351.8 926.7,351.5 927.7,351.1 928.7,350.8 929.7,350.4 930.7,350.0 931.6,349.5 932.6,349.1 933.6,348.6 934.6,348.1 935.6,347.5 936.6,346.9 937.6,346.3 938.6,345.6 939.6,344.9 940.6,344.2 941.6,343.4 942.6,342.6 943.5,341.6 944.5,340.6 945.5,339.3 946.5,338.0 947.5,336.4 948.5,334.7 949.5,332.8 950.5,330.6 951.5,328.0 952.5,325.0 953.5,321.6 954.5,317.7 955.4,313.3 956.4,308.5 957.4,302.0 958.4,289.6 959.4,278.0 960.4,272.2 961.4,267.3 962.4,261.5 963.4,255.3 964.4,247.9 965.4,242.7 966.4,239.5 967.3,240.5 968.2,241.5 969.1,242.5 970.0,243.4 970.9,244.3 971.8,245.3 972.7,246.2 973.6,247.0 974.6,247.9 975.5,248.7 976.4,249.5 981.6,252.8 986.4,258.8 987.2,260.9 988.1,263.0 988.9,265.1 989.7,267.1 990.6,269.1 991.4,271.1 992.4,272.2 993.4,273.4 994.4,274.7 995.4,276.1 996.4,277.5 997.4,279.1 998.4,280.9 999.4,283.3 1000.4,286.1 1001.4,288.9 1002.4,291.5 1003.4,293.8 1004.4,296.0 1005.4,297.8 1006.4,299.5 1007.4,300.9 1008.4,302.1 1009.4,303.3 1010.4,304.3 1011.4,305.0 1012.4,305.5 1013.4,306.0 1014.4,306.4 1015.4,306.7 1016.4,306.9 1017.4,307.0 1018.4,307.1 1019.4,307.2 1020.4,307.3 1021.4,307.3 1022.4,307.3 1023.4,307.3 1024.4,307.2 1025.4,307.2 1026.4,307.2 1027.4,307.2 1028.4,307.2 1029.4,307.2 1030.4,307.3 1031.4,307.6 1032.4,308.0 1033.4,308.6 1034.4,309.3 1035.4,310.3 1036.4,311.5 1037.4,312.7 1038.4,313.9 1039.4,315.1 1040.4,316.3 1041.4,317.4 1042.4,318.4 1043.3,319.4 1044.3,320.3 1045.3,321.1 1046.3,321.9 1047.3,322.7 1048.3,323.4 1049.3,324.1 1050.3,324.7 1051.3,325.3 1052.3,326.0 1053.3,326.8 1054.3,327.7 1055.3,328.6 1056.3,329.4 1057.3,329.8 1058.3,330.3 1059.3,330.6 1060.3,330.7 1061.3,330.7 1062.3,330.6 1063.3,330.5 1064.3,330.4 1065.3,330.2 1066.3,329.9 1067.3,329.6 1068.3,329.3 1069.3,329.2 1070.3,329.1 1071.3,329.0 1072.3,328.9 1073.3,328.8 1074.3,328.8 1075.3,328.8 1076.3,328.8 1077.3,328.8 1078.3,328.8 1079.3,328.8 1080.3,328.9 1081.3,329.0 1082.3,329.1 1083.3,329.3 1084.3,329.5 1085.3,329.8 1086.3,330.2 1087.3,330.6 1088.3,330.8 1089.3,331.0 1090.3,331.2 1091.3,331.3 1092.3,331.3 1093.3,331.3 1094.3,331.2 1095.3,331.0 1096.3,330.9 1097.3,330.7 1098.3,330.4 1099.3,330.1 1100.3,329.7 1101.3,329.4 1102.3,329.0 1103.3,328.7 1104.3,328.5 1105.3,328.4 1106.3,328.2 1107.3,328.2 1108.3,328.2 1109.3,328.4 1110.3,328.7 1111.3,329.1 1112.3,329.5 1113.3,330.1 1114.3,330.8 1115.3,331.5 1116.3,332.3 1117.3,333.2 1118.3,334.1 1119.3,334.8 1120.3,335.5 1121.3,336.1 1122.3,336.6 1123.3,336.9 1124.3,337.2 1125.3,337.4 1126.3,337.6 1127.3,337.6 1128.3,337.6 1129.3,337.5 1130.3,337.4 1131.3,337.3 1132.3,337.2 1133.3,336.9 1134.3,336.5 1135.3,336.1 1136.3,335.7 1137.3,335.4 1138.3,335.1 1139.3,334.8 1140.2,334.6 1141.2,334.5 1142.2,334.5 1143.2,334.5 1144.2,334.5 1145.2,334.5 1146.2,334.5 1147.2,334.5 1148.2,334.6 1149.2,334.9 1150.2,335.1 1151.2,335.4 1152.2,335.6 1153.2,335.9 1154.2,336.1 1155.2,336.4 1156.2,336.6 1157.2,336.9 1158.2,337.1 1159.2,337.3 1160.2,337.5 1161.2,337.7 1162.2,337.8 1163.2,338.0 1164.2,338.1 1165.2,338.2 1166.2,338.3 1167.2,338.4 1168.2,338.5 1169.2,338.5 1170.2,338.6 1171.2,338.6 1172.2,338.6 1173.2,338.5 1174.2,338.3 1175.2,338.2 1176.2,338.0 1177.2,337.9 1178.2,337.8 1179.2,337.7 1180.2,337.6 1181.2,337.5 1182.2,337.4 1183.2,337.3 1184.2,337.3 1185.2,337.4 1186.2,337.6 1187.2,337.8 1188.2,338.0 1189.2,338.1 1190.2,338.2 1191.2,338.3 1192.2,338.3 1193.2,338.4 1194.2,338.4 1195.2,338.5 1196.2,338.5 1197.2,338.4 1198.2,338.2 1199.2,338.0 1200.2,337.7 1201.2,337.6 1202.2,337.6 1203.2,337.7 1204.2,337.8 1205.2,338.0 1206.2,338.2 1207.2,338.4 1208.2,338.7 1209.2,339.2 1210.2,339.6 1211.2,340.0 1212.2,340.4 1213.2,340.5 1214.2,340.7 1215.2,340.8 1216.2,340.9 1217.2,341.0 1218.2,341.1 1219.2,341.1 1220.2,341.1 1221.2,341.0 1222.2,341.0 1223.2,340.9 1224.2,340.8 1225.2,340.7 1226.2,340.6 1227.2,340.5 1228.2,340.3 1229.2,340.1 1230.2,340.0 1231.2,339.9 1232.2,339.8 1233.2,339.7 1234.2,339.6 1235.2,339.6 1236.2,339.5 1237.2,339.5 1238.1,339.5 1239.1,339.5 1240.1,339.5 1241.1,339.5 1242.1,339.5 1243.1,339.5 1244.1,339.5 1245.1,339.5 1246.1,339.7 1247.1,339.9 1248.1,340.2 1249.1,340.4 1250.1,340.7 1251.1,340.9 1252.1,341.2 1253.1,341.5 1254.1,341.8 1255.1,342.0 1256.1,342.3 1257.1,342.5 1258.1,342.6 1259.1,342.8 1260.1,343.0 1261.1,343.1 1262.1,343.2 1263.1,343.2 1264.1,343.3 1265.1,343.3 1266.1,343.4 1267.1,343.4 1268.1,343.4 1269.1,343.4 1270.1,343.5 1271.1,343.5 1272.1,343.5 1273.1,343.5 1274.1,343.6 1275.1,343.6 1276.1,343.6 1277.1,343.7 1278.1,343.7 1279.1,343.8 1280.1,343.8 1281.1,343.9 1282.1,344.0 1283.1,344.0 1284.1,344.1 1285.1,344.2 1286.1,344.3 1287.1,344.4 1288.1,344.5 1289.1,344.7 1290.1,344.9 1291.1,345.2 1292.1,345.5 1293.1,345.9 1294.1,346.2 1295.1,346.5 1296.1,346.7 1297.1,346.9 1298.1,347.1 1299.1,347.3 1300.1,347.4 1301.1,347.5 1302.1,347.6 1303.1,347.6 1304.1,347.6 1305.1,347.6 1306.1,347.6 1307.1,347.6 1308.1,347.6 1309.1,347.6 1310.1,347.6 1311.1,347.6 1312.1,347.6 1313.1,347.6 1314.1,347.6 1315.1,347.6 1316.1,347.6 1317.1,347.6 1318.1,347.6 1319.1,347.7 1320.1,347.7 1321.1,347.7 1322.1,347.8 1323.1,347.8 1324.1,347.8 1325.1,347.8 1326.1,347.8 1327.1,347.9 1328.1,347.9 1329.1,347.8 1330.1,347.8 1331.1,347.7 1332.1,347.6 1333.1,347.5 1334.1,347.4 1335.0,347.3 1336.0,347.2 1337.0,347.0 1338.0,346.9 1339.0,346.8 1340.0,346.6 1341.0,346.5 1342.0,346.3 1343.0,346.2 1344.0,346.1 1345.0,346.0 1346.0,345.9 1347.0,345.8 1348.0,345.8 1349.0,345.7 1350.0,345.7 1351.0,345.8 1352.0,345.8 1353.0,345.9 1354.0,346.0 1355.0,346.2 1356.0,346.3 1357.0,346.5 1358.0,346.6 1359.0,346.9 1360.0,347.1 1361.0,347.3 1362.0,347.5 1363.0,347.7 1364.0,347.8 1365.0,348.0 1366.0,348.1 1367.0,348.3 1368.0,348.4 1369.0,348.5 1370.0,348.6 1371.0,348.7 1372.0,348.8 1373.0,348.8 1374.0,348.9 1375.0,349.0 1376.0,349.0 1377.0,349.1 1378.0,349.1 1379.0,349.2 1380.0,349.2 1381.0,349.2 1382.0,349.3 1383.0,349.3 1384.0,349.3 1385.0,349.3 1386.0,349.4 1387.0,349.4 1388.0,349.4 1389.0,349.4 1390.0,349.5 1391.0,349.5 1392.0,349.5 1393.0,349.5 1394.0,349.5 1395.0,349.6 1396.0,349.6 1397.0,349.6 1398.0,349.6 1399.0,349.6 1400.0,349.7 1401.0,349.7 1402.0,349.7 1403.0,349.7 1404.0,349.8 1405.0,349.8 1406.0,349.8 1407.0,349.8 1408.0,349.9 1409.0,349.9 1410.0,349.9 1411.0,350.0 1412.0,350.0 1413.0,350.0 1414.0,350.0 1415.0,350.1 1416.0,350.1 1417.0,350.1 1418.0,350.2 1419.0,350.2 1420.0,350.2 1421.0,350.2 1422.0,350.3 1423.0,350.3 1424.0,350.3 1425.0,350.4 1426.0,350.4 1427.0,350.4 1428.0,350.4 1429.0,350.5 1430.0,350.5 1431.0,350.5 1432.0,350.5 1432.9,350.6 1433.9,350.6 1434.9,350.6 1435.9,350.6 1436.9,350.7 1437.9,350.7 1438.9,350.7 1439.9,350.7 1440.9,350.8 1441.9,350.8 1442.9,350.8 1443.9,350.8 1444.9,350.8 1445.9,350.9 1446.9,350.9 1447.9,350.9 1448.9,350.9 1449.9,351.0 1450.9,351.0 1451.9,351.0 1452.9,351.0 1453.9,351.0 1454.9,351.1 1455.9,351.1 1456.9,351.1 1457.9,351.1 1458.9,351.1 1459.9,351.2 1460.9,351.2 1461.9,351.2 1462.9,351.2 1463.9,351.2 1464.9,351.3 1465.9,351.3 1466.9,351.3 1467.9,351.3 1468.9,351.3 1469.9,351.4 1470.9,351.4 1471.9,351.4 1472.9,351.4 1473.9,351.4 1474.9,351.5 1475.9,351.5 1476.9,351.5 1477.9,351.5 1478.9,351.5 1479.9,351.5 1480.9,351.6 1481.9,351.6 1482.9,351.6 1483.9,351.6 1484.9,351.6 1485.9,351.6 1486.9,351.6 1487.9,351.7 1488.9,351.7 1489.9,351.7 1490.9,351.7 1491.9,351.7 1492.9,351.7 1493.9,351.7 1494.9,351.8 1495.9,351.8 1496.9,351.8 1497.9,351.8 1498.9,351.8 1499.9,351.8 1500.9,351.8 1501.9,351.8 1502.9,351.8 1503.9,351.9 1504.9,351.9 1505.9,351.9 1506.9,351.9 1507.9,351.9 1508.9,351.9 1509.9,351.9 1510.9,351.9 1511.9,351.9 1512.9,351.9 1513.9,352.0 1514.9,352.0 1515.9,352.0 1516.9,352.0 1517.9,352.0 1518.9,352.0 1519.9,352.0 1520.9,352.0 1521.9,352.0 1522.9,352.0 1523.9,352.0 1524.9,352.0 1525.9,352.1 1526.9,352.1 1527.9,352.1 1528.9,352.1 1529.9,352.1 1530.8,352.1 1531.8,352.1 1532.8,352.1 1533.8,352.1 1534.8,352.1 1535.8,352.1 1536.8,352.1 1537.8,352.1 1538.8,352.2 1539.8,352.2 1540.8,352.2 1541.8,352.2 1542.8,352.2 1543.8,352.2 1544.8,352.2 1545.8,352.2 1546.8,352.2 1547.8,352.2 1548.8,352.2 1549.8,352.2 1550.8,352.2 1551.8,352.3 1552.8,352.3 1553.8,352.3 1554.8,352.3 1555.8,352.3 1556.8,352.3 1557.8,352.3 1558.8,352.3 1559.8,352.3 1560.8,352.3 1561.8,352.3 1562.8,352.3 1563.8,352.4 1564.8,352.4 1565.8,352.4 1566.8,352.4 1567.8,352.4 1568.8,352.4 1569.8,352.4 1570.8,352.4 1571.8,352.4 1572.8,352.4 1573.8,352.4 1574.8,352.4 1575.8,352.5 1576.8,352.5 1577.8,352.5 1578.8,352.5 1579.8,352.5 1580.8,352.5 1581.8,352.5 1582.8,352.5 1583.8,352.5 1584.8,352.5 1585.8,352.5 1586.8,352.5 1587.8,352.6 1588.8,352.6 1589.8,352.6 1590.8,352.6 1591.8,352.6 1592.8,352.6 1593.8,352.6 1594.8,352.6 1595.8,352.6 1596.8,352.6 1597.8,352.6 1598.8,352.7 1599.8,352.7 1600.8,352.7 1601.8,352.7 1602.8,352.7 1603.8,352.7 1604.8,352.7 1605.8,352.7 1606.8,352.7 1607.8,352.7 1608.8,352.7 1609.8,352.7 1610.8,352.8 1611.8,352.8 1612.8,352.8 1613.8,352.8 1614.8,352.8 1615.8,352.8 1616.8,352.8 1617.8,352.8 1618.8,352.8 1619.8,352.8 1620.8,352.8 1621.8,352.8 1622.8,352.9 1623.8,352.9 1624.8,352.9 1625.4,352.9"/>
<path class="c" stroke="#ff0000" d="M917.3,353.6 917.8,353.6 918.8,353.5 919.7,353.3 920.7,353.1 921.7,352.9 922.7,352.6 923.7,352.4 924.7,352.1 925.7,351.8 926.6,351.5 927.6,351.2 928.6,350.8 929.6,350.4 930.6,350.0 931.6,349.6 932.6,349.1 933.6,348.6 934.5,348.1 935.5,347.6 936.5,347.0 937.5,346.4 938.5,345.7 939.5,345.0 940.5,344.3 941.4,343.5 942.4,342.7 943.4,341.8 944.4,340.7 945.4,339.5 946.4,338.2 947.4,336.7 948.4,335.0 949.3,333.1 950.3,331.0 951.3,328.5 952.3,325.7 953.3,322.2 954.3,317.8 955.3,312.9 956.3,307.7 957.2,302.2 958.2,296.2 959.2,289.1 960.2,282.0 961.2,276.9 962.2,272.3 963.2,268.0 964.1,263.9 965.1,259.9 966.1,256.5 967.1,253.7 971.0,251.4 971.9,253.0 972.9,254.6 973.8,256.2 974.8,257.8 975.7,259.4 976.6,261.0 977.6,262.6 978.5,264.2 979.5,265.9 980.4,267.5 981.4,269.2 982.3,270.9 983.3,272.5 984.2,274.1 985.1,275.7 986.1,278.4 987.1,281.1 988.1,284.1 989.1,287.4 990.1,290.7 991.1,293.4 992.1,295.8 993.1,297.9 994.1,299.7 995.1,301.4 996.1,302.8 997.1,304.0 998.1,305.1 999.1,306.1 1000.1,306.9 1001.1,307.6 1002.1,308.3 1003.1,308.9 1004.1,309.5 1005.1,309.9 1006.1,310.4 1007.1,310.7 1008.1,311.1 1009.1,311.5 1010.1,311.9 1011.1,312.4 1012.1,312.8 1013.1,313.3 1014.1,313.8 1015.1,314.4 1016.1,315.1 1017.1,315.9 1018.1,316.5 1019.1,317.0 1020.1,317.4 1021.1,317.7 1022.1,317.9 1023.1,317.9 1024.1,317.9 1025.1,317.9 1026.1,317.8 1027.1,317.7 1028.1,317.4 1029.1,317.1 1030.1,316.9 1031.1,317.0 1032.1,317.3 1033.1,317.8 1034.1,318.3 1035.1,318.9 1036.1,319.8 1037.1,320.8 1038.1,321.6 1039.1,322.4 1040.1,323.2 1041.1,324.0 1042.1,324.6 1043.1,325.2 1044.1,325.7 1045.1,326.0 1046.1,326.3 1047.1,326.5 1048.1,326.6 1049.1,326.7 1050.1,326.8 1051.1,326.9 1052.1,326.9 1053.1,326.9 1054.1,327.0 1055.1,326.9 1056.1,326.7 1057.1,326.4 1058.1,326.0 1059.1,325.7 1060.1,325.3 1061.1,324.8 1062.1,324.3 1063.1,323.7 1064.1,323.2 1065.1,322.6 1066.1,322.0 1067.1,321.4 1068.1,320.8 1069.1,320.3 1070.1,319.8 1071.1,319.4 1072.1,319.0 1073.1,318.6 1074.1,318.2 1075.1,317.8 1076.1,317.4 1077.1,317.0 1078.1,316.6 1079.1,316.3 1080.1,316.0 1081.1,315.8 1082.1,315.6 1083.1,315.4 1084.1,315.2 1085.1,315.6 1086.1,316.5 1087.1,317.3 1088.1,318.2 1089.1,319.0 1090.1,319.7 1091.1,320.2 1092.1,320.8 1093.1,321.2 1094.1,321.5 1095.1,321.6 1096.1,321.5 1097.1,321.3 1098.1,321.1 1099.1,320.9 1100.1,320.7 1101.1,320.4 1102.1,320.2 1103.1,319.9 1104.1,319.7 1105.1,319.4 1106.1,319.1 1107.1,318.8 1108.1,318.5 1109.1,318.2 1110.1,317.9 1111.1,317.6 1112.1,317.3 1113.1,317.1 1114.1,317.1 1115.1,317.1 1116.1,317.6 1117.1,318.2 1118.1,319.0 1119.1,320.0 1120.1,321.3 1121.1,322.5 1122.1,323.7 1123.1,325.0 1124.1,326.2 1125.1,327.3 1126.1,328.4 1127.1,329.5 1128.1,330.5 1129.1,331.3 1130.1,331.9 1131.1,332.5 1132.1,333.0 1133.1,333.4 1134.1,333.8 1135.0,334.2 1136.0,334.5 1137.0,334.7 1138.0,334.9 1139.0,335.1 1140.0,335.2 1141.0,335.3 1142.0,335.3 1143.0,335.3 1144.0,335.3 1145.0,335.3 1146.0,335.2 1147.0,335.1 1148.0,335.0 1149.0,334.9 1150.0,334.7 1151.0,334.5 1152.0,334.3 1153.0,334.1 1154.0,333.9 1155.0,333.7 1156.0,333.6 1157.0,333.5 1158.0,333.5 1159.0,333.6 1160.0,333.9 1161.0,334.2 1162.0,334.5 1163.0,334.8 1164.0,335.2 1165.0,335.6 1166.0,336.0 1167.0,336.3 1168.0,336.6 1169.0,336.9 1170.0,337.2 1171.0,337.3 1172.0,337.3 1173.0,337.2 1174.0,337.1 1175.0,336.9 1176.0,336.7 1177.0,336.4 1178.0,336.1 1179.0,335.7 1180.0,335.3 1181.0,334.9 1182.0,334.7 1183.0,334.4 1184.0,334.1 1185.0,333.8 1186.0,333.6 1187.0,333.6 1188.0,333.7 1189.0,334.0 1190.0,334.3 1191.0,334.7 1192.0,335.0 1193.0,335.4 1194.0,335.8 1195.0,336.2 1196.0,336.6 1197.0,336.9 1198.0,337.3 1199.0,337.7 1200.0,338.0 1201.0,338.3 1202.0,338.6 1203.0,338.8 1204.0,339.1 1205.0,339.2 1206.0,339.4 1207.0,339.5 1208.0,339.7 1209.0,339.8 1210.0,339.9 1211.0,340.0 1212.0,340.1 1213.0,340.1 1214.0,340.1 1215.0,340.0 1216.0,340.0 1217.0,339.9 1218.0,339.8 1219.0,339.7 1220.0,339.6 1221.0,339.5 1222.0,339.4 1223.0,339.3 1224.0,339.2 1225.0,339.1 1226.0,339.0 1227.0,338.9 1228.0,338.9 1229.0,338.8 1230.0,338.7 1231.0,338.6 1232.0,338.6 1233.0,338.5 1234.0,338.4 1235.0,338.3 1236.0,338.3 1237.0,338.2 1238.0,338.2 1239.0,338.2 1240.0,338.2 1241.0,338.2 1242.0,338.2 1243.0,338.2 1244.0,338.3 1245.0,338.5 1246.0,338.7 1247.0,338.9 1248.0,339.1 1249.0,339.4 1250.0,339.7 1251.0,340.0 1252.0,340.3 1253.0,340.5 1254.0,340.8 1255.0,341.0 1256.0,341.3 1257.0,341.5 1258.0,341.6 1259.0,341.8 1260.0,341.9 1261.0,342.0 1262.0,342.1 1263.0,342.1 1264.0,342.2 1265.0,342.3 1266.0,342.4 1267.0,342.4 1268.0,342.5 1269.0,342.5 1270.0,342.6 1271.0,342.6 1272.0,342.7 1273.0,342.7 1274.0,342.7 1275.0,342.8 1276.0,342.8 1277.0,342.9 1278.0,342.9 1279.0,343.0 1280.0,343.0 1281.0,343.1 1282.0,343.2 1283.0,343.2 1284.0,343.3 1285.0,343.4 1286.0,343.5 1287.0,343.6 1288.0,343.7 1289.0,343.8 1290.0,344.0 1291.0,344.1 1292.0,344.3 1293.0,344.5 1294.0,344.7 1295.0,344.9 1296.0,345.1 1297.0,345.2 1298.0,345.4 1299.0,345.6 1299.9,345.8 1300.9,345.9 1301.9,346.1 1302.9,346.1 1303.9,346.2 1304.9,346.2 1305.9,346.3 1306.9,346.3 1307.9,346.4 1308.9,346.4 1309.9,346.4 1310.9,346.5 1311.9,346.5 1312.9,346.5 1313.9,346.6 1314.9,346.6 1315.9,346.7 1316.9,346.7 1317.9,346.8 1318.9,346.8 1319.9,346.9 1320.9,347.0 1321.9,347.0 1322.9,347.1 1323.9,347.2 1324.9,347.2 1325.9,347.3 1326.9,347.3 1327.9,347.4 1328.9,347.4 1329.9,347.5 1330.9,347.5 1331.9,347.6 1332.9,347.6 1333.9,347.6 1334.9,347.7 1335.9,347.7 1336.9,347.7 1337.9,347.8 1338.9,347.8 1339.9,347.9 1340.9,347.9 1341.9,347.9 1342.9,348.0 1343.9,348.0 1344.9,348.0 1345.9,348.0 1346.9,348.1 1347.9,348.1 1348.9,348.1 1349.9,348.2 1350.9,348.2 1351.9,348.2 1352.9,348.2 1353.9,348.3 1354.9,348.3 1355.9,348.3 1356.9,348.4 1357.9,348.4 1358.9,348.4 1359.9,348.5 1360.9,348.5 1361.9,348.5 1362.9,348.6 1363.9,348.6 1364.9,348.6 1365.9,348.6 1366.9,348.7 1367.9,348.7 1368.9,348.7 1369.9,348.7 1370.9,348.7 1371.9,348.8 1372.9,348.8 1373.9,348.8 1374.9,348.8 1375.9,348.8 1376.9,348.8 1377.9,348.9 1378.9,348.9 1379.9,348.9 1380.9,348.9 1381.9,349.0 1382.9,349.0 1383.9,349.0 1384.9,349.0 1385.9,349.0 1386.9,349.1 1387.9,349.1 1388.9,349.1 1389.9,349.1 1390.9,349.1 1391.9,349.1 1392.9,349.1 1393.9,349.2 1394.9,349.2 1395.9,349.2 1396.9,349.2 1397.9,349.2 1398.9,349.2 1399.9,349.2 1400.9,349.2 1401.9,349.2 1402.9,349.2 1403.9,349.3 1404.9,349.3 1405.9,349.3 1406.9,349.3 1407.9,349.3 1408.9,349.3 1409.9,349.4 1410.9,349.4 1411.9,349.4 1412.9,349.4 1413.9,349.5 1414.9,349.5 1415.9,349.5 1416.9,349.5 1417.9,349.5 1418.9,349.6 1419.9,349.6 1420.9,349.6 1421.9,349.6 1422.9,349.6 1423.9,349.7 1424.9,349.7 1425.9,349.7 1426.9,349.7 1427.9,349.7 1428.9,349.8 1429.9,349.8 1430.9,349.8 1431.9,349.8 1432.9,349.9 1433.9,349.9 1434.9,349.9 1435.9,350.0 1436.9,350.0 1437.9,350.0 1438.9,350.1 1439.9,350.1 1440.9,350.1 1441.9,350.2 1442.9,350.2 1443.9,350.2 1444.9,350.3 1445.9,350.3 1446.9,350.3 1447.9,350.3 1448.9,350.4 1449.9,350.4 1450.9,350.4 1451.9,350.5 1452.9,350.5 1453.9,350.5 1454.9,350.6 1455.9,350.6 1456.9,350.6 1457.9,350.6 1458.9,350.7 1459.9,350.7 1460.9,350.7 1461.9,350.8 1462.9,350.8 1463.9,350.8 1464.8,350.9 1465.8,350.9 1466.8,350.9 1467.8,350.9 1468.8,350.9 1469.8,351.0 1470.8,351.0 1471.8,351.0 1472.8,351.0 1473.8,351.0 1474.8,351.1 1475.8,351.1 1476.8,351.1 1477.8,351.1 1478.8,351.1 1479.8,351.2 1480.8,351.2 1481.8,351.2 1482.8,351.2 1483.8,351.3 1484.8,351.3 1485.8,351.3 1486.8,351.3 1487.8,351.4 1488.8,351.4 1489.8,351.4 1490.8,351.4 1491.8,351.5 1492.8,351.5 1493.8,351.5 1494.8,351.5 1495.8,351.5 1496.8,351.5 1497.8,351.5 1498.8,351.6 1499.8,351.6 1500.8,351.6 1501.8,351.6 1502.8,351.6 1503.8,351.6 1504.8,351.6 1505.8,351.6 1506.8,351.7 1507.8,351.7 1508.8,351.7 1509.8,351.7 1510.8,351.7 1511.8,351.7 1512.8,351.7 1513.8,351.7 1514.8,351.7 1515.8,351.7 1516.8,351.8 1517.8,351.8 1518.8,351.8 1519.8,351.8 1520.8,351.8 1521.8,351.8 1522.8,351.8 1523.8,351.8 1524.8,351.8 1525.8,351.8 1526.8,351.8 1527.8,351.8 1528.8,351.9 1529.8,351.9 1530.8,351.9 1531.8,351.9 1532.8,351.9 1533.8,351.9 1534.8,351.9 1535.8,351.9 1536.8,351.9 1537.8,351.9 1538.8,351.9 1539.8,351.9 1540.8,351.9 1541.8,352.0 1542.8,352.0 1543.8,352.0 1544.8,352.0 1545.8,352.0 1546.8,352.0 1547.8,352.0 1548.8,352.0 1549.8,352.0 1550.8,352.0 1551.8,352.0 1552.8,352.0 1553.8,352.0 1554.8,352.0 1555.8,352.0 1556.8,352.1 1557.8,352.1 1558.8,352.1 1559.8,352.1 1560.8,352.1 1561.8,352.1 1562.8,352.1 1563.8,352.1 1564.8,352.1 1565.8,352.1 1566.8,352.1 1567.8,352.1 1568.8,352.1 1569.8,352.1 1570.8,352.2 1571.8,352.2 1572.8,352.2 1573.8,352.2 1574.8,352.2 1575.8,352.2 1576.8,352.2 1577.8,352.2 1578.8,352.2 1579.8,352.2 1580.8,352.2 1581.8,352.2 1582.8,352.2 1583.8,352.2 1584.8,352.3 1585.8,352.3 1586.8,352.3 1587.8,352.3 1588.8,352.3 1589.8,352.3 1590.8,352.3 1591.8,352.3 1592.8,352.3 1593.8,352.3 1594.8,352.3 1595.8,352.3 1596.8,352.3 1597.8,352.3 1598.8,352.3 1599.8,352.3 1600.8,352.4 1601.8,352.4 1602.8,352.4 1603.8,352.4 1604.8,352.4 1605.8,352.4 1606.8,352.4 1607.8,352.4 1608.8,352.4 1609.8,352.4 1610.8,352.4 1611.8,352.4 1612.8,352.4 1613.8,352.4 1614.8,352.4 1615.8,352.4 1616.8,352.4 1617.8,352.5 1618.8,352.5 1619.8,352.5 1620.8,352.5 1621.8,352.5 1622.8,352.5 1623.8,352.5 1624.8,352.5 1625.4,352.5"/>
</g>
<g clip-path="url(#cpf)">
<path class="c" stroke="#000" d="M917.3,524.3 917.8,524.3 918.8,524.2 919.8,524.2 920.8,524.1 921.8,524.0 922.8,523.9 923.8,523.8 924.8,523.7 925.8,523.6 926.8,523.5 927.8,523.4 928.8,523.3 929.7,523.1 930.7,523.0 931.7,522.8 932.7,522.6 933.7,522.4 934.7,522.2 935.7,522.0 936.7,521.8 937.7,521.6 938.7,521.3 939.7,521.1 940.7,520.8 941.7,520.5 942.7,520.2 943.7,519.8 944.7,519.3 945.7,518.8 946.7,518.2 947.7,517.6 948.7,516.9 949.7,516.2 950.7,515.4 951.7,514.5 952.7,513.5 953.7,512.4 954.7,511.1 955.7,509.7 956.7,508.0 957.7,506.2 958.7,504.0 959.7,501.6 960.7,499.2 961.7,496.6 962.7,494.4 963.7,492.5 964.7,491.4 965.7,490.8 966.7,490.9 967.7,492.0 968.7,493.7 969.7,496.2 970.7,498.8 971.7,501.6 972.7,504.1 973.7,506.6 974.7,508.6 975.7,510.1 976.7,511.4 977.7,512.4 978.7,513.1 979.7,513.7 980.7,514.2 981.7,514.6 982.7,514.9 983.7,515.2 984.7,515.3 985.7,515.3 986.7,515.3 987.7,515.1 988.7,514.9 989.7,514.6 990.7,514.1 991.7,513.4 992.7,512.6 993.7,511.6 994.7,510.4 995.7,509.1 996.7,507.9 997.7,506.6 998.7,505.3 999.7,504.4 1000.7,503.6 1001.7,503.0 1002.7,502.6 1003.7,502.4 1004.7,502.4 1005.7,502.4 1006.7,502.8 1007.7,503.4 1008.6,504.1 1009.6,504.8 1010.6,505.6 1011.6,506.3 1012.6,506.9 1013.6,507.5 1014.6,508.1 1015.6,508.6 1016.6,508.9 1017.6,509.2 1018.6,509.5 1019.6,509.7 1020.6,509.8 1021.6,509.9 1022.6,509.9 1023.6,509.9 1024.6,509.9 1025.6,509.9 1026.6,509.9 1027.6,509.8 1028.6,509.6 1029.6,509.4 1030.6,509.1 1031.6,508.8 1032.6,508.5 1033.6,508.1 1034.6,507.7 1035.6,507.3 1036.6,506.9 1037.6,506.5 1038.6,506.0 1039.6,505.5 1040.6,505.1 1041.6,504.8 1042.6,504.5 1043.6,504.3 1044.6,504.1 1045.6,503.9 1046.6,503.8 1047.6,503.8 1048.6,503.7 1049.6,503.7 1050.6,503.7 1051.6,503.6 1052.6,503.6 1053.6,503.5 1054.6,503.4 1055.6,503.2 1056.6,503.1 1057.6,503.0 1058.6,502.9 1059.6,502.9 1060.6,502.9 1061.6,502.8 1062.6,502.9 1063.6,503.0 1064.6,503.3 1065.6,503.6 1066.6,503.8 1067.6,504.1 1068.6,504.4 1069.6,504.6 1070.6,504.8 1071.6,504.8 1072.6,504.8 1073.6,504.8 1074.6,504.8 1075.6,504.8 1076.6,504.8 1077.6,504.8 1078.6,504.6 1079.6,504.4 1080.6,504.1 1081.6,503.8 1082.6,503.4 1083.6,503.0 1084.6,502.5 1085.6,502.0 1086.6,501.4 1087.5,500.8 1088.5,500.1 1089.5,499.3 1090.5,498.5 1091.5,497.7 1092.5,496.9 1093.5,496.0 1094.5,495.1 1095.5,494.2 1096.5,493.3 1097.5,492.4 1098.5,491.5 1099.5,490.5 1100.5,489.5 1101.5,488.4 1102.5,487.2 1103.5,486.0 1104.5,484.8 1105.5,483.5 1106.5,482.1 1107.5,480.7 1108.5,479.1 1109.5,477.3 1110.5,475.3 1111.5,473.3 1112.5,471.2 1113.5,469.0 1114.5,466.7 1115.5,464.4 1116.5,462.1 1117.5,459.7 1118.5,457.3 1119.5,454.8 1120.5,452.5 1121.5,450.1 1122.5,447.7 1123.5,445.4 1124.5,443.1 1125.5,440.8 1126.5,438.4 1127.5,436.3 1128.5,434.6 1129.5,433.1 1130.5,431.8 1131.5,430.9 1132.5,430.3 1133.5,429.8 1134.5,429.5 1135.5,429.4 1136.5,429.6 1137.5,430.0 1138.5,430.5 1139.5,431.0 1140.5,431.9 1141.5,433.0 1142.5,434.2 1143.5,435.6 1144.5,437.3 1145.5,439.1 1146.5,440.8 1147.5,442.7 1148.5,444.6 1149.5,446.4 1150.5,448.1 1151.5,449.7 1152.5,451.2 1153.5,452.6 1154.5,453.8 1155.5,454.8 1156.5,455.8 1157.5,456.6 1158.5,457.3 1159.5,457.9 1160.5,458.4 1161.5,458.8 1162.5,459.1 1163.5,459.2 1164.5,459.3 1165.5,459.4 1166.4,459.4 1167.4,459.5 1168.4,459.4 1169.4,459.3 1170.4,459.2 1171.4,459.0 1172.4,458.9 1173.4,458.7 1174.4,458.5 1175.4,458.2 1176.4,458.1 1177.4,458.0 1178.4,458.0 1179.4,458.0 1180.4,458.0 1181.4,458.1 1182.4,458.2 1183.4,458.3 1184.4,458.7 1185.4,459.2 1186.4,459.7 1187.4,460.2 1188.4,460.7 1189.4,461.2 1190.4,461.7 1191.4,462.2 1192.4,462.7 1193.4,463.1 1194.4,463.6 1195.4,464.0 1196.4,464.4 1197.4,464.6 1198.4,464.9 1199.4,465.1 1200.4,465.3 1201.4,465.4 1202.4,465.5 1203.4,465.5 1204.4,465.4 1205.4,465.3 1206.4,465.2 1207.4,465.1 1208.4,465.0 1209.4,464.8 1210.4,464.5 1211.4,464.3 1212.4,464.1 1213.4,464.0 1214.4,464.0 1215.4,463.9 1216.4,463.9 1217.4,463.8 1218.4,463.9 1219.4,464.0 1220.4,464.2 1221.4,464.4 1222.4,464.6 1223.4,464.8 1224.4,465.0 1225.4,465.1 1226.4,465.2 1227.4,465.4 1228.4,465.6 1229.4,465.8 1230.4,466.1 1231.4,466.5 1232.4,466.9 1233.4,467.3 1234.4,467.7 1235.4,468.1 1236.4,468.5 1237.4,468.9 1238.4,469.2 1239.4,469.6 1240.4,469.9 1241.4,470.1 1242.4,470.4 1243.4,470.6 1244.4,470.8 1245.3,471.1 1246.3,471.3 1247.3,471.5 1248.3,471.8 1249.3,472.0 1250.3,472.2 1251.3,472.5 1252.3,472.9 1253.3,473.4 1254.3,473.9 1255.3,474.4 1256.3,475.0 1257.3,475.5 1258.3,476.1 1259.3,476.7 1260.3,477.3 1261.3,477.8 1262.3,478.2 1263.3,478.6 1264.3,478.9 1265.3,479.2 1266.3,479.5 1267.3,479.6 1268.3,479.7 1269.3,479.8 1270.3,479.8 1271.3,479.9 1272.3,479.9 1273.3,480.0 1274.3,480.0 1275.3,480.0 1276.3,480.0 1277.3,480.1 1278.3,480.1 1279.3,480.1 1280.3,480.1 1281.3,480.1 1282.3,480.1 1283.3,480.1 1284.3,480.1 1285.3,480.1 1286.3,480.0 1287.3,479.9 1288.3,479.9 1289.3,479.8 1290.3,479.7 1291.3,479.7 1292.3,479.7 1293.3,479.8 1294.3,479.8 1295.3,479.9 1296.3,480.1 1297.3,480.3 1298.3,480.6 1299.3,481.0 1300.3,481.5 1301.3,481.9 1302.3,482.4 1303.3,482.8 1304.3,483.3 1305.3,483.7 1306.3,484.2 1307.3,484.6 1308.3,485.0 1309.3,485.4 1310.3,485.8 1311.3,486.1 1312.3,486.3 1313.3,486.5 1314.3,486.6 1315.3,486.8 1316.3,486.9 1317.3,487.1 1318.3,487.2 1319.3,487.3 1320.3,487.4 1321.3,487.5 1322.3,487.6 1323.3,487.6 1324.2,487.6 1325.2,487.6 1326.2,487.6 1327.2,487.6 1328.2,487.6 1329.2,487.6 1330.2,487.6 1331.2,487.6 1332.2,487.5 1333.2,487.5 1334.2,487.4 1335.2,487.4 1336.2,487.3 1337.2,487.3 1338.2,487.3 1339.2,487.3 1340.2,487.4 1341.2,487.4 1342.2,487.4 1343.2,487.5 1344.2,487.5 1345.2,487.6 1346.2,487.7 1347.2,487.8 1348.2,488.0 1349.2,488.1 1350.2,488.3 1351.2,488.5 1352.2,488.7 1353.2,489.0 1354.2,489.2 1355.2,489.5 1356.2,489.7 1357.2,490.0 1358.2,490.2 1359.2,490.4 1360.2,490.6 1361.2,490.7 1362.2,490.9 1363.2,491.1 1364.2,491.2 1365.2,491.3 1366.2,491.4 1367.2,491.5 1368.2,491.6 1369.2,491.7 1370.2,491.8 1371.2,491.9 1372.2,491.9 1373.2,492.0 1374.2,492.0 1375.2,492.1 1376.2,492.1 1377.2,492.2 1378.2,492.2 1379.2,492.3 1380.2,492.3 1381.2,492.4 1382.2,492.4 1383.2,492.5 1384.2,492.6 1385.2,492.6 1386.2,492.7 1387.2,492.8 1388.2,492.9 1389.2,492.9 1390.2,493.0 1391.2,493.1 1392.2,493.2 1393.2,493.3 1394.2,493.4 1395.2,493.4 1396.2,493.5 1397.2,493.6 1398.2,493.7 1399.2,493.8 1400.2,494.0 1401.2,494.1 1402.2,494.2 1403.1,494.2 1404.1,494.3 1405.1,494.4 1406.1,494.5 1407.1,494.6 1408.1,494.6 1409.1,494.7 1410.1,494.8 1411.1,494.9 1412.1,495.0 1413.1,495.1 1414.1,495.2 1415.1,495.4 1416.1,495.5 1417.1,495.6 1418.1,495.8 1419.1,495.9 1420.1,496.1 1421.1,496.2 1422.1,496.4 1423.1,496.6 1424.1,496.7 1425.1,496.9 1426.1,497.1 1427.1,497.3 1428.1,497.5 1429.1,497.8 1430.1,498.0 1431.1,498.2 1432.1,498.4 1433.1,498.7 1434.1,498.9 1435.1,499.2 1436.1,499.4 1437.1,499.7 1438.1,499.9 1439.1,500.2 1440.1,500.4 1441.1,500.7 1442.1,500.9 1443.1,501.1 1444.1,501.4 1445.1,501.6 1446.1,501.8 1447.1,502.0 1448.1,502.3 1449.1,502.5 1450.1,502.7 1451.1,502.9 1452.1,503.1 1453.1,503.2 1454.1,503.4 1455.1,503.5 1456.1,503.7 1457.1,503.8 1458.1,504.0 1459.1,504.1 1460.1,504.2 1461.1,504.3 1462.1,504.4 1463.1,504.5 1464.1,504.5 1465.1,504.6 1466.1,504.6 1467.1,504.6 1468.1,504.7 1469.1,504.7 1470.1,504.7 1471.1,504.7 1472.1,504.7 1473.1,504.7 1474.1,504.7 1475.1,504.7 1476.1,504.7 1477.1,504.6 1478.1,504.6 1479.1,504.5 1480.1,504.5 1481.1,504.3 1482.0,504.2 1483.0,504.0 1484.0,503.9 1485.0,503.8 1486.0,503.6 1487.0,503.5 1488.0,503.4 1489.0,503.2 1490.0,503.1 1491.0,502.9 1492.0,502.7 1493.0,502.5 1494.0,502.3 1495.0,502.1 1496.0,501.9 1497.0,501.7 1498.0,501.5 1499.0,501.3 1500.0,501.0 1501.0,500.8 1502.0,500.6 1503.0,500.4 1504.0,500.1 1505.0,499.9 1506.0,499.7 1507.0,499.4 1508.0,499.2 1509.0,498.9 1510.0,498.7 1511.0,498.4 1512.0,498.2 1513.0,498.0 1514.0,497.7 1515.0,497.5 1516.0,497.3 1517.0,497.0 1518.0,496.8 1519.0,496.6 1520.0,496.4 1521.0,496.2 1522.0,496.1 1523.0,495.9 1524.0,495.8 1525.0,495.7 1526.0,495.5 1527.0,495.4 1528.0,495.4 1529.0,495.3 1530.0,495.2 1531.0,495.1 1532.0,495.1 1533.0,495.1 1534.0,495.2 1535.0,495.3 1536.0,495.5 1537.0,495.6 1538.0,495.7 1539.0,495.9 1540.0,496.0 1541.0,496.2 1542.0,496.4 1543.0,496.6 1544.0,496.7 1545.0,496.8 1546.0,497.0 1547.0,497.1 1548.0,497.3 1549.0,497.4 1550.0,497.5 1551.0,497.6 1552.0,497.7 1553.0,497.8 1554.0,497.9 1555.0,498.0 1556.0,498.0 1557.0,498.1 1558.0,498.2 1559.0,498.3 1560.0,498.4 1561.0,498.4 1561.9,498.5 1562.9,498.6 1563.9,498.7 1564.9,498.8 1565.9,498.9 1566.9,498.9 1567.9,499.0 1568.9,499.1 1569.9,499.1 1570.9,499.2 1571.9,499.3 1572.9,499.3 1573.9,499.4 1574.9,499.5 1575.9,499.5 1576.9,499.6 1577.9,499.6 1578.9,499.7 1579.9,499.8 1580.9,499.9 1581.9,499.9 1582.9,500.0 1583.9,500.1 1584.9,500.2 1585.9,500.3 1586.9,500.4 1587.9,500.4 1588.9,500.5 1589.9,500.6 1590.9,500.7 1591.9,500.8 1592.9,500.8 1593.9,500.9 1594.9,501.0 1595.9,501.1 1596.9,501.2 1597.9,501.3 1598.9,501.4 1599.9,501.5 1600.9,501.6 1601.9,501.7 1602.9,501.8 1603.9,501.9 1604.9,502.0 1605.9,502.1 1606.9,502.2 1607.9,502.3 1608.9,502.4 1609.9,502.5 1610.9,502.6 1611.9,502.7 1612.9,502.8 1613.9,502.9 1614.9,503.0 1615.9,503.0 1616.9,503.1 1617.9,503.2 1618.9,503.3 1619.9,503.3 1620.9,503.4 1621.9,503.4 1622.9,503.5 1623.9,503.6 1624.9,503.6 1625.4,503.6"/>
<path class="c" stroke="#ff0000" d="M917.3,524.1 917.8,524.1 918.8,524.1 919.8,524.0 920.8,523.9 921.8,523.8 922.8,523.7 923.8,523.6 924.8,523.5 925.8,523.4 926.8,523.3 927.8,523.1 928.8,523.0 929.7,522.9 930.7,522.7 931.7,522.6 932.7,522.4 933.7,522.2 934.7,522.0 935.7,521.8 936.7,521.6 937.7,521.3 938.7,521.1 939.7,520.8 940.7,520.5 941.7,520.2 942.7,519.9 943.7,519.5 944.7,519.1 945.7,518.6 946.7,518.0 947.7,517.4 948.7,516.7 949.7,515.9 950.7,515.1 951.7,514.2 952.7,513.1 953.7,512.0 954.7,510.6 955.7,509.1 956.7,507.4 957.7,505.5 958.7,503.3 959.7,501.0 960.7,498.5 961.7,495.9 962.7,493.6 963.7,491.7 964.7,490.5 965.7,489.9 966.7,490.1 967.7,491.1 968.7,492.8 969.7,495.3 970.7,497.9 971.7,500.6 972.7,503.1 973.7,505.4 974.7,507.3 975.7,508.9 976.7,510.2 977.7,511.2 978.7,511.9 979.7,512.5 980.7,513.0 981.7,513.3 982.7,513.6 983.7,513.7 984.7,513.8 985.7,513.8 986.7,513.6 987.7,513.3 988.7,512.9 989.7,512.5 990.7,511.9 991.7,511.0 992.7,510.1 993.7,508.7 994.7,507.2 995.7,505.4 996.7,503.3 997.7,501.3 998.7,499.5 999.7,497.9 1000.7,496.9 1001.7,496.1 1002.7,495.7 1003.7,495.8 1004.7,496.1 1005.7,496.5 1006.7,497.1 1007.7,497.7 1008.6,498.4 1009.6,499.0 1010.6,499.6 1011.6,500.2 1012.6,500.8 1013.6,501.4 1014.6,502.0 1015.6,502.6 1016.6,503.2 1017.6,503.8 1018.6,504.3 1019.6,504.8 1020.6,505.2 1021.6,505.6 1022.6,506.0 1023.6,506.3 1024.6,506.5 1025.6,506.7 1026.6,506.9 1027.6,507.0 1028.6,506.9 1029.6,506.8 1030.6,506.7 1031.6,506.4 1032.6,506.2 1033.6,505.9 1034.6,505.4 1035.6,504.9 1036.6,504.4 1037.6,503.9 1038.6,503.3 1039.6,502.7 1040.6,502.1 1041.6,501.5 1042.6,500.9 1043.6,500.3 1044.6,499.7 1045.6,499.1 1046.6,498.5 1047.6,498.0 1048.6,497.4 1049.6,496.9 1050.6,496.4 1051.6,495.9 1052.6,495.5 1053.6,495.1 1054.6,494.8 1055.6,494.7 1056.6,494.6 1057.6,494.5 1058.6,494.5 1059.6,494.5 1060.6,494.7 1061.6,494.9 1062.6,495.3 1063.6,495.6 1064.6,496.0 1065.6,496.5 1066.6,497.0 1067.6,497.5 1068.6,497.9 1069.6,498.3 1070.6,498.7 1071.6,499.1 1072.6,499.4 1073.6,499.6 1074.6,499.9 1075.6,500.1 1076.6,500.3 1077.6,500.3 1078.6,500.3 1079.6,500.1 1080.6,499.9 1081.6,499.5 1082.6,499.1 1083.6,498.5 1084.6,498.0 1085.6,497.3 1086.6,496.6 1087.5,495.9 1088.5,495.1 1089.5,494.3 1090.5,493.6 1091.5,492.8 1092.5,491.9 1093.5,490.8 1094.5,489.6 1095.5,488.4 1096.5,487.4 1097.5,486.4 1098.5,485.4 1099.5,484.5 1100.5,483.4 1101.5,482.4 1102.5,481.2 1103.5,480.0 1104.5,478.7 1105.5,477.4 1106.5,476.1 1107.5,474.7 1108.5,473.2 1109.5,471.7 1110.5,470.1 1111.5,468.5 1112.5,466.8 1113.5,464.9 1114.5,463.0 1115.5,461.1 1116.5,459.0 1117.5,456.9 1118.5,454.8 1119.5,452.6 1120.5,450.3 1121.5,448.0 1122.5,445.7 1123.5,443.4 1124.5,441.2 1125.5,439.0 1126.5,436.9 1127.5,435.0 1128.5,433.4 1129.5,432.0 1130.5,430.8 1131.5,429.9 1132.5,429.2 1133.5,428.7 1134.5,428.3 1135.5,428.2 1136.5,428.3 1137.5,428.9 1138.5,429.6 1139.5,430.8 1140.5,432.3 1141.5,434.0 1142.5,436.0 1143.5,438.3 1144.5,440.6 1145.5,443.0 1146.5,445.5 1147.5,447.8 1148.5,450.0 1149.5,452.1 1150.5,454.0 1151.5,455.6 1152.5,457.0 1153.5,458.3 1154.5,459.4 1155.5,460.3 1156.5,461.1 1157.5,461.8 1158.5,462.4 1159.5,462.9 1160.5,463.3 1161.5,463.8 1162.5,464.1 1163.5,464.2 1164.5,464.3 1165.5,464.4 1166.4,464.4 1167.4,464.5 1168.4,464.4 1169.4,464.2 1170.4,463.9 1171.4,463.5 1172.4,463.0 1173.4,462.5 1174.4,461.8 1175.4,461.1 1176.4,460.3 1177.4,459.6 1178.4,458.7 1179.4,457.9 1180.4,457.2 1181.4,456.6 1182.4,455.9 1183.4,455.4 1184.4,454.9 1185.4,454.7 1186.4,454.5 1187.4,454.3 1188.4,454.2 1189.4,454.2 1190.4,454.2 1191.4,454.3 1192.4,454.5 1193.4,454.7 1194.4,454.9 1195.4,455.1 1196.4,455.3 1197.4,455.5 1198.4,455.8 1199.4,456.0 1200.4,456.3 1201.4,456.6 1202.4,456.8 1203.4,457.1 1204.4,457.3 1205.4,457.6 1206.4,457.8 1207.4,458.1 1208.4,458.4 1209.4,458.7 1210.4,459.0 1211.4,459.3 1212.4,459.6 1213.4,459.9 1214.4,460.2 1215.4,460.6 1216.4,460.9 1217.4,461.3 1218.4,461.6 1219.4,462.0 1220.4,462.2 1221.4,462.5 1222.4,462.8 1223.4,463.0 1224.4,463.2 1225.4,463.2 1226.4,463.2 1227.4,463.1 1228.4,463.0 1229.4,463.0 1230.4,463.0 1231.4,463.0 1232.4,463.1 1233.4,463.2 1234.4,463.3 1235.4,463.4 1236.4,463.6 1237.4,463.7 1238.4,463.9 1239.4,464.2 1240.4,464.4 1241.4,464.7 1242.4,465.0 1243.4,465.2 1244.4,465.5 1245.3,465.8 1246.3,466.0 1247.3,466.3 1248.3,466.5 1249.3,466.8 1250.3,467.0 1251.3,467.3 1252.3,467.6 1253.3,467.8 1254.3,468.0 1255.3,468.2 1256.3,468.4 1257.3,468.5 1258.3,468.7 1259.3,468.8 1260.3,469.0 1261.3,469.1 1262.3,469.2 1263.3,469.3 1264.3,469.3 1265.3,469.4 1266.3,469.5 1267.3,469.6 1268.3,469.9 1269.3,470.4 1270.3,470.7 1271.3,470.9 1272.3,471.0 1273.3,471.1 1274.3,471.2 1275.3,471.3 1276.3,471.6 1277.3,471.9 1278.3,472.3 1279.3,472.6 1280.3,472.9 1281.3,473.2 1282.3,473.4 1283.3,473.7 1284.3,473.9 1285.3,474.1 1286.3,474.2 1287.3,474.3 1288.3,474.4 1289.3,474.5 1290.3,474.7 1291.3,474.8 1292.3,475.0 1293.3,475.2 1294.3,475.4 1295.3,475.7 1296.3,476.0 1297.3,476.4 1298.3,476.9 1299.3,477.4 1300.3,478.0 1301.3,478.5 1302.3,479.1 1303.3,479.6 1304.3,480.1 1305.3,480.7 1306.3,481.2 1307.3,481.8 1308.3,482.3 1309.3,482.9 1310.3,483.4 1311.3,484.0 1312.3,484.5 1313.3,485.1 1314.3,485.7 1315.3,486.3 1316.3,486.9 1317.3,487.5 1318.3,488.1 1319.3,488.7 1320.3,489.3 1321.3,489.9 1322.3,490.5 1323.3,491.1 1324.2,491.7 1325.2,492.3 1326.2,492.9 1327.2,493.4 1328.2,494.0 1329.2,494.5 1330.2,495.0 1331.2,495.5 1332.2,495.9 1333.2,496.3 1334.2,496.7 1335.2,497.1 1336.2,497.4 1337.2,497.8 1338.2,498.0 1339.2,498.3 1340.2,498.6 1341.2,498.8 1342.2,499.0 1343.2,499.2 1344.2,499.4 1345.2,499.5 1346.2,499.5 1347.2,499.6 1348.2,499.6 1349.2,499.7 1350.2,499.7 1351.2,499.7 1352.2,499.7 1353.2,499.6 1354.2,499.6 1355.2,499.5 1356.2,499.4 1357.2,499.3 1358.2,499.2 1359.2,499.1 1360.2,499.0 1361.2,498.9 1362.2,498.8 1363.2,498.7 1364.2,498.6 1365.2,498.5 1366.2,498.4 1367.2,498.2 1368.2,498.1 1369.2,498.0 1370.2,497.9 1371.2,497.8 1372.2,497.7 1373.2,497.5 1374.2,497.4 1375.2,497.3 1376.2,497.1 1377.2,497.0 1378.2,496.9 1379.2,496.7 1380.2,496.6 1381.2,496.4 1382.2,496.3 1383.2,496.1 1384.2,496.0 1385.2,495.8 1386.2,495.6 1387.2,495.4 1388.2,495.2 1389.2,495.0 1390.2,494.8 1391.2,494.6 1392.2,494.3 1393.2,494.1 1394.2,493.8 1395.2,493.6 1396.2,493.4 1397.2,493.1 1398.2,492.9 1399.2,492.7 1400.2,492.5 1401.2,492.3 1402.2,492.1 1403.1,491.9 1404.1,491.7 1405.1,491.5 1406.1,491.3 1407.1,491.1 1408.1,491.0 1409.1,490.8 1410.1,490.7 1411.1,490.6 1412.1,490.5 1413.1,490.4 1414.1,490.4 1415.1,490.3 1416.1,490.2 1417.1,490.1 1418.1,490.0 1419.1,490.0 1420.1,489.9 1421.1,489.8 1422.1,489.7 1423.1,489.6 1424.1,489.6 1425.1,489.5 1426.1,489.4 1427.1,489.3 1428.1,489.2 1429.1,489.1 1430.1,489.0 1431.1,488.9 1432.1,488.8 1433.1,488.6 1434.1,488.5 1435.1,488.4 1436.1,488.3 1437.1,488.2 1438.1,488.1 1439.1,488.1 1440.1,488.0 1441.1,487.9 1442.1,487.8 1443.1,487.7 1444.1,487.7 1445.1,487.6 1446.1,487.6 1447.1,487.6 1448.1,487.6 1449.1,487.6 1450.1,487.7 1451.1,487.8 1452.1,487.9 1453.1,487.9 1454.1,488.0 1455.1,488.1 1456.1,488.3 1457.1,488.4 1458.1,488.5 1459.1,488.6 1460.1,488.6 1461.1,488.7 1462.1,488.7 1463.1,488.8 1464.1,488.8 1465.1,488.8 1466.1,488.8 1467.1,488.8 1468.1,488.8 1469.1,488.7 1470.1,488.7 1471.1,488.6 1472.1,488.6 1473.1,488.5 1474.1,488.4 1475.1,488.3 1476.1,488.2 1477.1,488.2 1478.1,488.1 1479.1,488.0 1480.1,487.9 1481.1,487.8 1482.0,487.7 1483.0,487.7 1484.0,487.6 1485.0,487.5 1486.0,487.5 1487.0,487.4 1488.0,487.4 1489.0,487.3 1490.0,487.3 1491.0,487.3 1492.0,487.4 1493.0,487.6 1494.0,487.9 1495.0,488.1 1496.0,488.5 1497.0,488.8 1498.0,489.3 1499.0,489.7 1500.0,490.1 1501.0,490.5 1502.0,490.9 1503.0,491.3 1504.0,491.7 1505.0,492.1 1506.0,492.5 1507.0,492.9 1508.0,493.3 1509.0,493.7 1510.0,494.1 1511.0,494.5 1512.0,494.9 1513.0,495.2 1514.0,495.6 1515.0,495.9 1516.0,496.3 1517.0,496.6 1518.0,496.9 1519.0,497.2 1520.0,497.5 1521.0,497.8 1522.0,498.0 1523.0,498.3 1524.0,498.5 1525.0,498.7 1526.0,498.9 1527.0,499.0 1528.0,499.1 1529.0,499.3 1530.0,499.4 1531.0,499.5 1532.0,499.6 1533.0,499.7 1534.0,499.9 1535.0,500.0 1536.0,500.0 1537.0,500.1 1538.0,500.1 1539.0,500.2 1540.0,500.2 1541.0,500.2 1542.0,500.2 1543.0,500.2 1544.0,500.2 1545.0,500.2 1546.0,500.2 1547.0,500.2 1548.0,500.2 1549.0,500.1 1550.0,500.1 1551.0,500.1 1552.0,500.1 1553.0,500.0 1554.0,500.0 1555.0,499.9 1556.0,499.8 1557.0,499.8 1558.0,499.7 1559.0,499.7 1560.0,499.7 1561.0,499.6 1561.9,499.6 1562.9,499.6 1563.9,499.5 1564.9,499.5 1565.9,499.5 1566.9,499.4 1567.9,499.4 1568.9,499.3 1569.9,499.3 1570.9,499.3 1571.9,499.2 1572.9,499.2 1573.9,499.2 1574.9,499.2 1575.9,499.2 1576.9,499.2 1577.9,499.2 1578.9,499.2 1579.9,499.2 1580.9,499.2 1581.9,499.2 1582.9,499.2 1583.9,499.2 1584.9,499.3 1585.9,499.3 1586.9,499.3 1587.9,499.3 1588.9,499.4 1589.9,499.4 1590.9,499.5 1591.9,499.5 1592.9,499.6 1593.9,499.7 1594.9,499.8 1595.9,499.9 1596.9,499.9 1597.9,500.0 1598.9,500.1 1599.9,500.2 1600.9,500.3 1601.9,500.4 1602.9,500.6 1603.9,500.7 1604.9,500.8 1605.9,500.9 1606.9,501.0 1607.9,501.1 1608.9,501.2 1609.9,501.3 1610.9,501.3 1611.9,501.4 1612.9,501.5 1613.9,501.6 1614.9,501.6 1615.9,501.7 1616.9,501.8 1617.9,501.8 1618.9,501.9 1619.9,501.9 1620.9,502.0 1621.9,502.1 1622.9,502.1 1623.9,502.2 1624.9,502.2 1625.4,502.2"/>
</g>
<text class="t" text-anchor="end" transform="translate(65.1 21.9) scale(0.96 1)">8</text>
<text class="t" text-anchor="end" transform="translate(65.1 62.4) scale(0.96 1)">6</text>
<text class="t" text-anchor="end" transform="translate(65.1 102.9) scale(0.96 1)">4</text>
<text class="t" text-anchor="end" transform="translate(65.1 143.4) scale(0.96 1)">2</text>
<text class="t" text-anchor="end" transform="translate(65.1 183.9) scale(0.96 1)">0</text>
<text class="t" text-anchor="end" transform="translate(65.1 234.5) scale(0.96 1)">6</text>
<text class="t" text-anchor="end" transform="translate(65.1 277.0) scale(0.96 1)">4</text>
<text class="t" text-anchor="end" transform="translate(65.1 319.4) scale(0.96 1)">2</text>
<text class="t" text-anchor="end" transform="translate(65.1 361.9) scale(0.96 1)">0</text>
<text class="t" text-anchor="end" transform="translate(65.1 404.3) scale(0.96 1)">6</text>
<text class="t" text-anchor="end" transform="translate(65.1 446.8) scale(0.96 1)">4</text>
<text class="t" text-anchor="end" transform="translate(65.1 489.2) scale(0.96 1)">2</text>
<text class="t" text-anchor="end" transform="translate(65.1 531.7) scale(0.96 1)">0</text>
<text class="t" text-anchor="middle" transform="translate(75.8 557.1) scale(0.96 1)">0</text>
<text class="t" text-anchor="middle" transform="translate(310.1 557.1) scale(0.96 1)">3</text>
<text class="t" text-anchor="middle" transform="translate(544.5 557.1) scale(0.96 1)">6</text>
<text class="t" text-anchor="middle" transform="translate(778.8 557.1) scale(0.96 1)">9</text>
<text class="t" text-anchor="end" transform="translate(907.3 46.8) scale(0.96 1)">6</text>
<text class="t" text-anchor="end" transform="translate(907.3 95.7) scale(0.96 1)">4</text>
<text class="t" text-anchor="end" transform="translate(907.3 144.5) scale(0.96 1)">2</text>
<text class="t" text-anchor="end" transform="translate(907.3 193.4) scale(0.96 1)">0</text>
<text class="t" text-anchor="end" transform="translate(907.3 236.0) scale(0.96 1)">6</text>
<text class="t" text-anchor="end" transform="translate(907.3 278.6) scale(0.96 1)">4</text>
<text class="t" text-anchor="end" transform="translate(907.3 321.2) scale(0.96 1)">2</text>
<text class="t" text-anchor="end" transform="translate(907.3 363.8) scale(0.96 1)">0</text>
<text class="t" text-anchor="end" transform="translate(907.3 420.6) scale(0.96 1)">4</text>
<text class="t" text-anchor="end" transform="translate(907.3 477.4) scale(0.96 1)">2</text>
<text class="t" text-anchor="end" transform="translate(907.3 534.2) scale(0.96 1)">0</text>
<text class="t" text-anchor="middle" transform="translate(917.3 560) scale(0.96 1)">0</text>
<text class="t" text-anchor="middle" transform="translate(1153.0 560) scale(0.96 1)">3</text>
<text class="t" text-anchor="middle" transform="translate(1388.7 560) scale(0.96 1)">6</text>
<text class="t" text-anchor="middle" transform="translate(1624.4 560) scale(0.96 1)">9</text>
<path d="M494.6,44.2 H550.6" stroke="#000" stroke-width="4" stroke-linecap="round" fill="none"/>
<path d="M494.6,76.3 H550.6" stroke="#ff0000" stroke-width="4" stroke-linecap="round" fill="none"/>
<text class="l" x="557.6" y="53.7">x</text>
<text class="l" x="557.6" y="84.9">y</text>
<path d="M1401.4,40.2 H1457.5" stroke="#000" stroke-width="4" stroke-linecap="round" fill="none"/>
<path d="M1401.4,72.4 H1457.5" stroke="#ff0000" stroke-width="4" stroke-linecap="round" fill="none"/>
<text class="l" x="1464.8" y="49.8">x</text>
<text class="l" x="1464.8" y="81.5">y</text>
<text class="T" text-anchor="end" transform="translate(778.1 52.4) scale(0.995 1)">(a)</text>
<text class="T" text-anchor="end" transform="translate(776.6 223.2) scale(0.995 1)">(b)</text>
<text class="T" text-anchor="end" transform="translate(778.1 392.1) scale(0.995 1)">(c)</text>
<text class="T" text-anchor="end" transform="translate(1624.8999999999999 51.9) scale(0.995 1)">(d)</text>
<text class="T" text-anchor="end" transform="translate(1624.5 220.5) scale(0.995 1)">(e)</text>
<text class="T" text-anchor="end" transform="translate(1621.8999999999999 390.3) scale(0.995 1)">(f)</text>
<text class="T" transform="translate(323.3 610.8) scale(0.98 1)">Energy(eV)</text>
<text class="T" transform="translate(1166.4 613.6) scale(0.98 1)">Energy(eV)</text>
<defs><clipPath id="c1"><path d="M0,240 H28 V250.2 H33 V253.4 H28 V262 H0 Z"/></clipPath></defs>
<text transform="translate(21.3,280.4) rotate(-90)" style="font-family:'Liberation Serif',serif;font-size:44px">ε</text>
<g clip-path="url(#c1)"><text transform="translate(31.5,260.7) rotate(-90)" style="font-size:30px">1</text></g>
<text transform="translate(846.9,280.4) rotate(-90)" style="font-family:'Liberation Serif',serif;font-size:44px">ε<tspan dy="10.6" style="font-size:31px">2</tspan></text>
</svg></body></html>
